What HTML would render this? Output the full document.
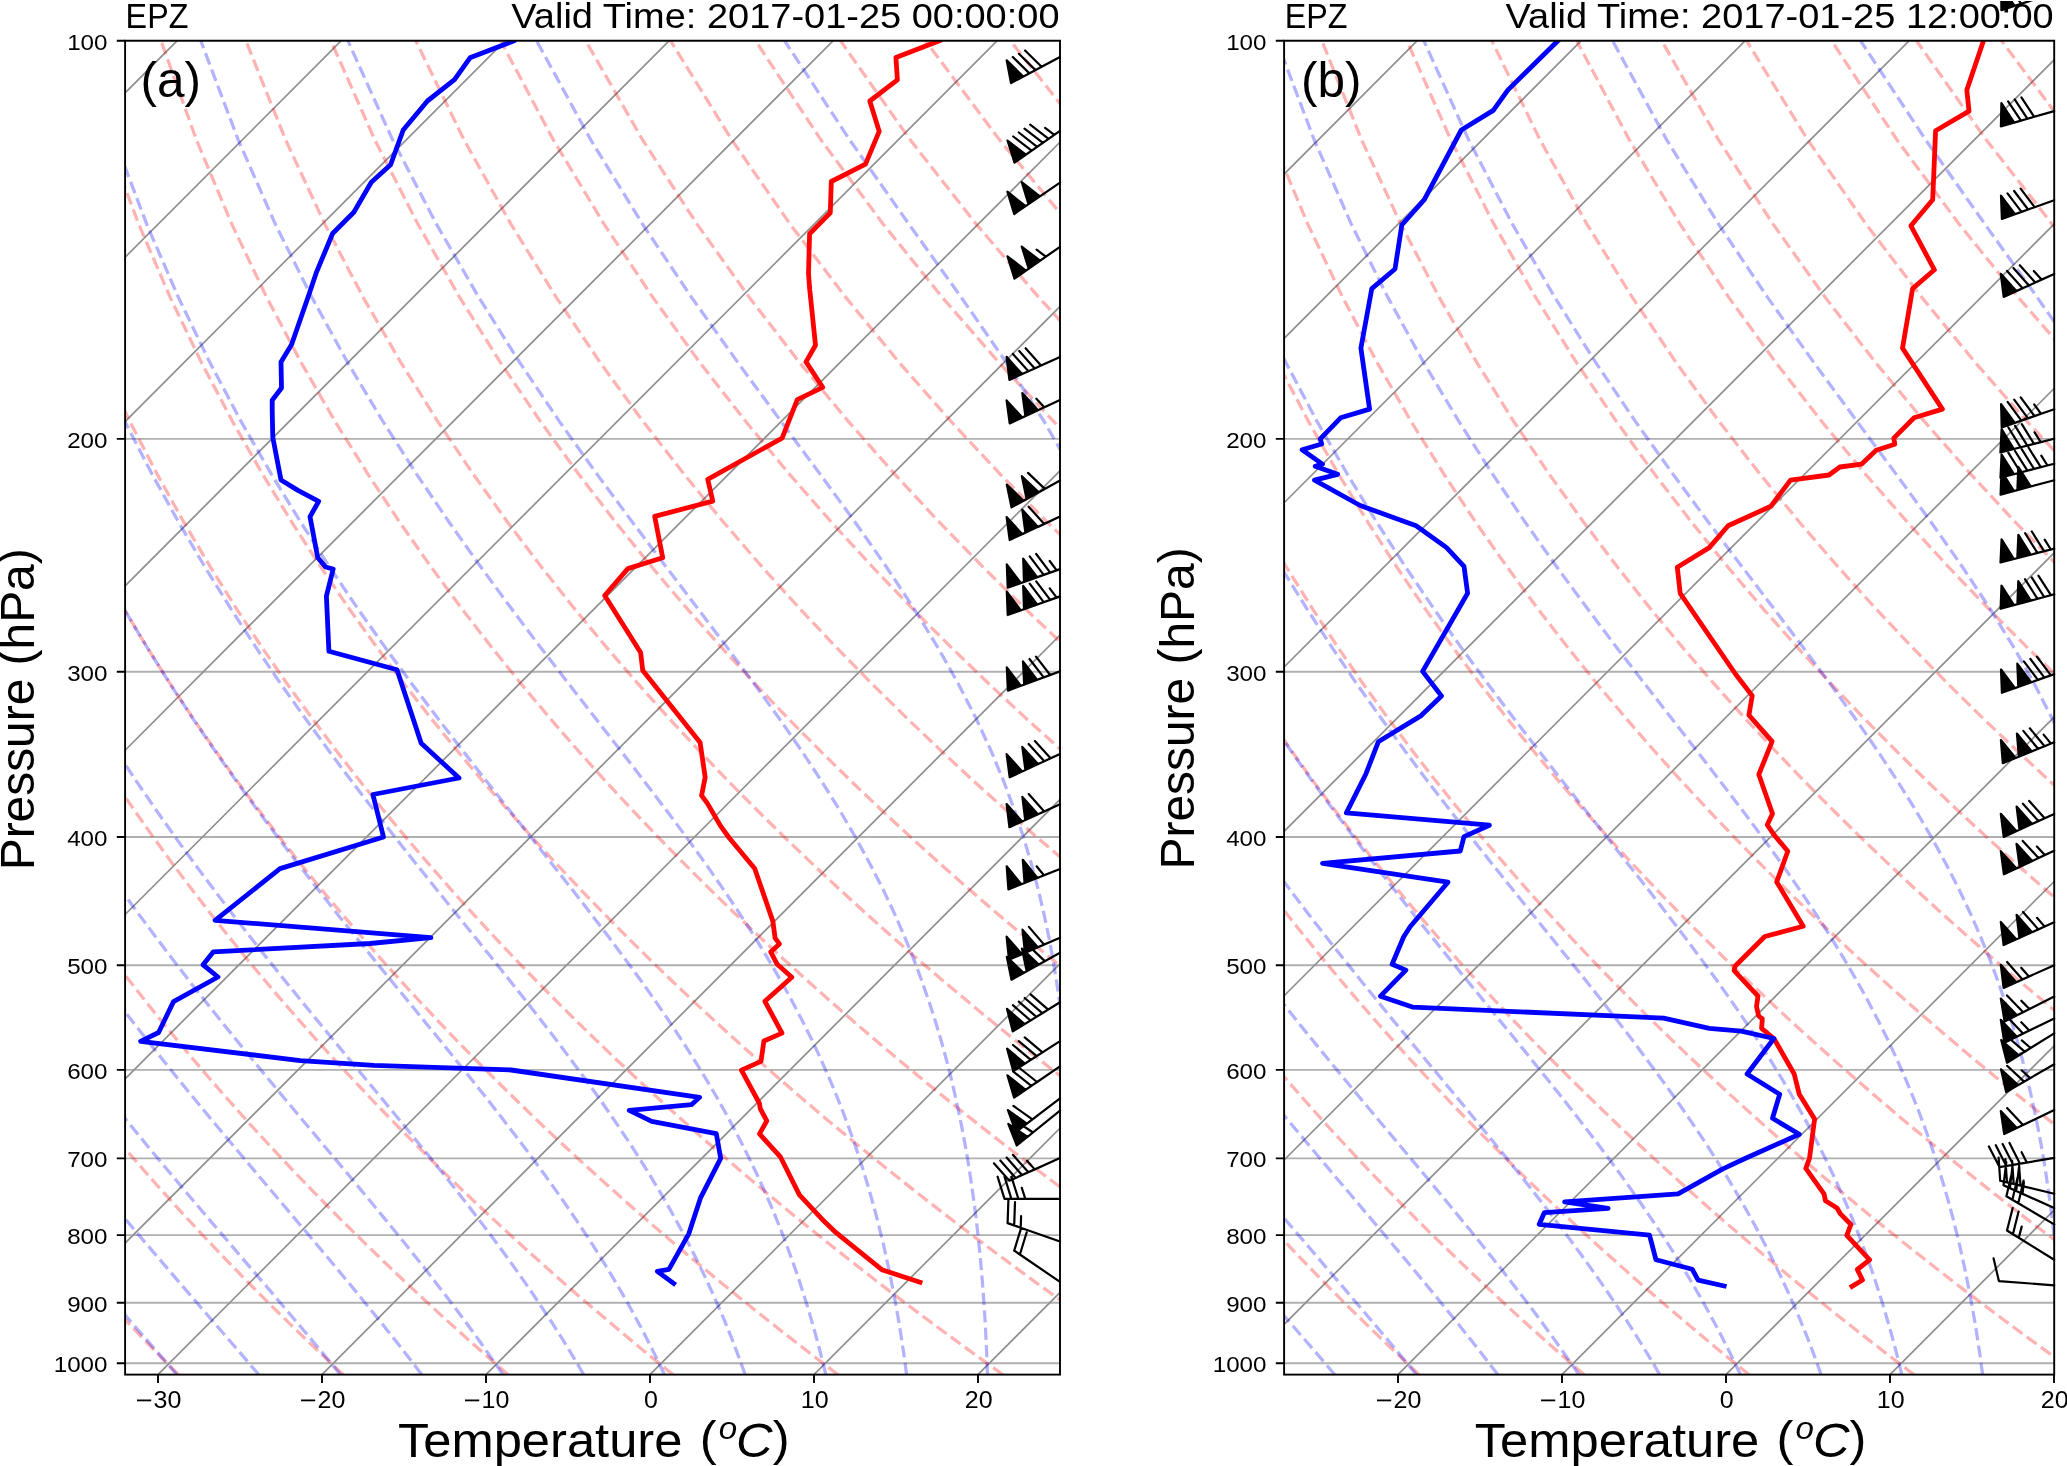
<!DOCTYPE html><html><head><meta charset="utf-8"><style>html,body{margin:0;padding:0;background:#fff;width:2067px;height:1466px;overflow:hidden}svg{display:block;will-change:transform}</style></head><body>
<svg width="2067" height="1466" viewBox="0 0 2067 1466">
<rect width="2067" height="1466" fill="#fff"/>
<clipPath id="clipa"><rect x="125.1" y="40.7" width="934.9" height="1333.9"/></clipPath>
<g clip-path="url(#clipa)">
<path d="M125.1 40.8 H1060 M125.1 438.9 H1060 M125.1 671.8 H1060 M125.1 837 H1060 M125.1 965.2 H1060 M125.1 1069.9 H1060 M125.1 1158.4 H1060 M125.1 1235.1 H1060 M125.1 1302.8 H1060 M125.1 1363.3 H1060" stroke="#b0b0b0" stroke-width="1.9" fill="none"/>
<path d="M-2635 1379.6 L-1293.8 35.7 M-2471 1379.6 L-1129.8 35.7 M-2307 1379.6 L-965.8 35.7 M-2143 1379.6 L-801.8 35.7 M-1979 1379.6 L-637.8 35.7 M-1815 1379.6 L-473.8 35.7 M-1651 1379.6 L-309.8 35.7 M-1487 1379.6 L-145.8 35.7 M-1323 1379.6 L18.2 35.7 M-1159 1379.6 L182.2 35.7 M-995 1379.6 L346.2 35.7 M-831 1379.6 L510.2 35.7 M-667 1379.6 L674.2 35.7 M-503 1379.6 L838.2 35.7 M-339 1379.6 L1002.2 35.7 M-175 1379.6 L1166.2 35.7 M-11 1379.6 L1330.2 35.7 M153 1379.6 L1494.2 35.7 M317 1379.6 L1658.2 35.7 M481 1379.6 L1822.2 35.7 M645 1379.6 L1986.2 35.7 M809 1379.6 L2150.2 35.7 M973 1379.6 L2314.2 35.7 M1137 1379.6 L2478.2 35.7 M1301 1379.6 L2642.2 35.7 M1465 1379.6 L2806.2 35.7" stroke="#8f8f8f" stroke-width="1.7" fill="none"/>
<path d="M13.4 1374.7 L3.7 1364 L-6 1353.1 L-15.9 1342 L-25.8 1330.7 L-35.8 1319.2 L-45.9 1307.5 L-56 1295.4 L-66.2 1283.2 L-76.6 1270.6 L-87 1257.8 L-97.4 1244.7 L-108 1231.3 L-118.7 1217.6 L-129.4 1203.5 L-140.2 1189.1 L-151.2 1174.3 L-162.2 1159.1 L-173.3 1143.5 L-184.5 1127.5 L-195.8 1111 L-207.2 1094 L-218.7 1076.5 L-230.3 1058.5 L-242 1039.8 L-253.8 1020.6 L-265.7 1000.6 L-277.7 980 L-289.7 958.6 L-301.9 936.3 L-314.2 913.2 L-326.5 889.1 L-339 863.9 L-351.5 837.6 L-364 810 L-376.6 781.1 L-389.2 750.5 L-401.9 718.3 L-414.5 684.2 L-427 647.9 L-439.4 609.1 L-451.7 567.5 L-463.6 522.7 L-475.2 474.1 L-486.2 421.1 L-496.3 362.6 L-505.3 297.4 L-512.7 223.9 L-517.5 139.6 L-518.6 40.8 M178.4 1374.7 L167.8 1364 L157.1 1353.1 L146.4 1342 L135.6 1330.7 L124.7 1319.2 L113.6 1307.5 L102.5 1295.4 L91.3 1283.2 L80.1 1270.6 L68.7 1257.8 L57.2 1244.7 L45.6 1231.3 L33.9 1217.6 L22.1 1203.5 L10.2 1189.1 L-1.9 1174.3 L-14 1159.1 L-26.3 1143.5 L-38.7 1127.5 L-51.1 1111 L-63.8 1094 L-76.5 1076.5 L-89.4 1058.5 L-102.4 1039.8 L-115.5 1020.6 L-128.7 1000.6 L-142.1 980 L-155.7 958.6 L-169.3 936.3 L-183.1 913.2 L-197 889.1 L-211 863.9 L-225.2 837.6 L-239.5 810 L-253.9 781.1 L-268.3 750.5 L-282.9 718.3 L-297.5 684.2 L-312.1 647.9 L-326.7 609.1 L-341.3 567.5 L-355.7 522.7 L-369.8 474.1 L-383.5 421.1 L-396.6 362.6 L-408.8 297.4 L-419.6 223.9 L-428.3 139.6 L-433.6 40.8 M343.3 1374.7 L331.8 1364 L320.3 1353.1 L308.7 1342 L296.9 1330.7 L285.1 1319.2 L273.1 1307.5 L261.1 1295.4 L248.9 1283.2 L236.7 1270.6 L224.3 1257.8 L211.8 1244.7 L199.2 1231.3 L186.4 1217.6 L173.5 1203.5 L160.5 1189.1 L147.4 1174.3 L134.1 1159.1 L120.7 1143.5 L107.2 1127.5 L93.5 1111 L79.7 1094 L65.7 1076.5 L51.6 1058.5 L37.3 1039.8 L22.8 1020.6 L8.2 1000.6 L-6.6 980 L-21.6 958.6 L-36.7 936.3 L-52 913.2 L-67.5 889.1 L-83.1 863.9 L-98.9 837.6 L-114.9 810 L-131.1 781.1 L-147.4 750.5 L-163.9 718.3 L-180.5 684.2 L-197.2 647.9 L-214 609.1 L-230.9 567.5 L-247.7 522.7 L-264.4 474.1 L-280.9 421.1 L-297 362.6 L-312.3 297.4 L-326.6 223.9 L-339.1 139.6 L-348.7 40.8 M508.2 1374.7 L495.9 1364 L483.5 1353.1 L470.9 1342 L458.3 1330.7 L445.5 1319.2 L432.7 1307.5 L419.7 1295.4 L406.5 1283.2 L393.3 1270.6 L379.9 1257.8 L366.4 1244.7 L352.7 1231.3 L338.9 1217.6 L325 1203.5 L310.9 1189.1 L296.7 1174.3 L282.3 1159.1 L267.8 1143.5 L253 1127.5 L238.2 1111 L223.1 1094 L207.9 1076.5 L192.5 1058.5 L176.9 1039.8 L161.1 1020.6 L145.1 1000.6 L128.9 980 L112.5 958.6 L95.9 936.3 L79.1 913.2 L62.1 889.1 L44.8 863.9 L27.3 837.6 L9.6 810 L-8.3 781.1 L-26.5 750.5 L-44.9 718.3 L-63.5 684.2 L-82.3 647.9 L-101.3 609.1 L-120.5 567.5 L-139.7 522.7 L-159 474.1 L-178.3 421.1 L-197.3 362.6 L-215.8 297.4 L-233.5 223.9 L-249.9 139.6 L-263.7 40.8 M673.1 1374.7 L660 1364 L646.6 1353.1 L633.2 1342 L619.7 1330.7 L606 1319.2 L592.2 1307.5 L578.2 1295.4 L564.1 1283.2 L549.9 1270.6 L535.5 1257.8 L521 1244.7 L506.3 1231.3 L491.5 1217.6 L476.5 1203.5 L461.3 1189.1 L446 1174.3 L430.5 1159.1 L414.8 1143.5 L398.9 1127.5 L382.8 1111 L366.6 1094 L350.1 1076.5 L333.4 1058.5 L316.5 1039.8 L299.4 1020.6 L282 1000.6 L264.5 980 L246.6 958.6 L228.5 936.3 L210.2 913.2 L191.6 889.1 L172.7 863.9 L153.6 837.6 L134.2 810 L114.4 781.1 L94.4 750.5 L74.1 718.3 L53.5 684.2 L32.6 647.9 L11.4 609.1 L-10.1 567.5 L-31.8 522.7 L-53.7 474.1 L-75.6 421.1 L-97.6 362.6 L-119.3 297.4 L-140.5 223.9 L-160.6 139.6 L-178.8 40.8 M838.1 1374.7 L824 1364 L809.8 1353.1 L795.5 1342 L781 1330.7 L766.4 1319.2 L751.7 1307.5 L736.8 1295.4 L721.7 1283.2 L706.5 1270.6 L691.1 1257.8 L675.6 1244.7 L659.9 1231.3 L644 1217.6 L627.9 1203.5 L611.7 1189.1 L595.3 1174.3 L578.6 1159.1 L561.8 1143.5 L544.7 1127.5 L527.5 1111 L510 1094 L492.3 1076.5 L474.3 1058.5 L456.1 1039.8 L437.7 1020.6 L419 1000.6 L400 980 L380.7 958.6 L361.2 936.3 L341.3 913.2 L321.2 889.1 L300.7 863.9 L279.9 837.6 L258.7 810 L237.2 781.1 L215.3 750.5 L193.1 718.3 L170.4 684.2 L147.4 647.9 L124.1 609.1 L100.3 567.5 L76.2 522.7 L51.7 474.1 L27 421.1 L2.1 362.6 L-22.8 297.4 L-47.5 223.9 L-71.4 139.6 L-93.9 40.8 M1003 1374.7 L988.1 1364 L973 1353.1 L957.8 1342 L942.4 1330.7 L926.9 1319.2 L911.2 1307.5 L895.3 1295.4 L879.3 1283.2 L863.1 1270.6 L846.8 1257.8 L830.2 1244.7 L813.5 1231.3 L796.5 1217.6 L779.4 1203.5 L762.1 1189.1 L744.5 1174.3 L726.8 1159.1 L708.8 1143.5 L690.6 1127.5 L672.1 1111 L653.4 1094 L634.5 1076.5 L615.2 1058.5 L595.8 1039.8 L576 1020.6 L555.9 1000.6 L535.5 980 L514.8 958.6 L493.8 936.3 L472.4 913.2 L450.7 889.1 L428.6 863.9 L406.1 837.6 L383.2 810 L359.9 781.1 L336.2 750.5 L312.1 718.3 L287.4 684.2 L262.3 647.9 L236.7 609.1 L210.7 567.5 L184.1 522.7 L157.1 474.1 L129.6 421.1 L101.8 362.6 L73.7 297.4 L45.6 223.9 L17.8 139.6 L-8.9 40.8 M1167.9 1374.7 L1152.1 1364 L1136.2 1353.1 L1120 1342 L1103.8 1330.7 L1087.3 1319.2 L1070.7 1307.5 L1053.9 1295.4 L1036.9 1283.2 L1019.7 1270.6 L1002.4 1257.8 L984.8 1244.7 L967 1231.3 L949.1 1217.6 L930.9 1203.5 L912.5 1189.1 L893.8 1174.3 L874.9 1159.1 L855.8 1143.5 L836.4 1127.5 L816.8 1111 L796.9 1094 L776.7 1076.5 L756.2 1058.5 L735.4 1039.8 L714.3 1020.6 L692.8 1000.6 L671 980 L648.9 958.6 L626.4 936.3 L603.5 913.2 L580.2 889.1 L556.5 863.9 L532.4 837.6 L507.8 810 L482.7 781.1 L457.1 750.5 L431 718.3 L404.4 684.2 L377.2 647.9 L349.4 609.1 L321.1 567.5 L292.1 522.7 L262.5 474.1 L232.3 421.1 L201.5 362.6 L170.2 297.4 L138.6 223.9 L107 139.6 L76 40.8 M1332.9 1374.7 L1316.2 1364 L1299.3 1353.1 L1282.3 1342 L1265.1 1330.7 L1247.8 1319.2 L1230.2 1307.5 L1212.4 1295.4 L1194.5 1283.2 L1176.3 1270.6 L1158 1257.8 L1139.4 1244.7 L1120.6 1231.3 L1101.6 1217.6 L1082.3 1203.5 L1062.9 1189.1 L1043.1 1174.3 L1023.1 1159.1 L1002.8 1143.5 L982.3 1127.5 L961.4 1111 L940.3 1094 L918.9 1076.5 L897.1 1058.5 L875 1039.8 L852.6 1020.6 L829.8 1000.6 L806.6 980 L783 958.6 L759 936.3 L734.6 913.2 L709.8 889.1 L684.4 863.9 L658.6 837.6 L632.3 810 L605.5 781.1 L578 750.5 L550 718.3 L521.4 684.2 L492.1 647.9 L462.1 609.1 L431.5 567.5 L400 522.7 L367.9 474.1 L334.9 421.1 L301.2 362.6 L266.7 297.4 L231.7 223.9 L196.3 139.6 L161 40.8 M1497.8 1374.7 L1480.2 1364 L1462.5 1353.1 L1444.6 1342 L1426.5 1330.7 L1408.2 1319.2 L1389.7 1307.5 L1371 1295.4 L1352.1 1283.2 L1333 1270.6 L1313.6 1257.8 L1294 1244.7 L1274.2 1231.3 L1254.1 1217.6 L1233.8 1203.5 L1213.2 1189.1 L1192.4 1174.3 L1171.3 1159.1 L1149.8 1143.5 L1128.1 1127.5 L1106.1 1111 L1083.7 1094 L1061.1 1076.5 L1038 1058.5 L1014.6 1039.8 L990.8 1020.6 L966.7 1000.6 L942.1 980 L917.1 958.6 L891.6 936.3 L865.7 913.2 L839.3 889.1 L812.4 863.9 L784.9 837.6 L756.9 810 L728.2 781.1 L699 750.5 L669 718.3 L638.4 684.2 L607 647.9 L574.8 609.1 L541.8 567.5 L508 522.7 L473.2 474.1 L437.5 421.1 L400.9 362.6 L363.2 297.4 L324.7 223.9 L285.5 139.6 L245.9 40.8 M1662.7 1374.7 L1644.3 1364 L1625.7 1353.1 L1606.9 1342 L1587.9 1330.7 L1568.6 1319.2 L1549.2 1307.5 L1529.6 1295.4 L1509.7 1283.2 L1489.6 1270.6 L1469.2 1257.8 L1448.6 1244.7 L1427.8 1231.3 L1406.7 1217.6 L1385.3 1203.5 L1363.6 1189.1 L1341.7 1174.3 L1319.4 1159.1 L1296.9 1143.5 L1274 1127.5 L1250.7 1111 L1227.2 1094 L1203.3 1076.5 L1178.9 1058.5 L1154.2 1039.8 L1129.1 1020.6 L1103.6 1000.6 L1077.6 980 L1051.2 958.6 L1024.3 936.3 L996.8 913.2 L968.8 889.1 L940.3 863.9 L911.2 837.6 L881.4 810 L851 781.1 L819.9 750.5 L788 718.3 L755.4 684.2 L721.9 647.9 L687.5 609.1 L652.2 567.5 L616 522.7 L578.6 474.1 L540.2 421.1 L500.5 362.6 L459.7 297.4 L417.8 223.9 L374.7 139.6 L330.9 40.8 M1827.7 1374.7 L1808.4 1364 L1788.9 1353.1 L1769.1 1342 L1749.2 1330.7 L1729.1 1319.2 L1708.7 1307.5 L1688.1 1295.4 L1667.3 1283.2 L1646.2 1270.6 L1624.8 1257.8 L1603.2 1244.7 L1581.4 1231.3 L1559.2 1217.6 L1536.8 1203.5 L1514 1189.1 L1491 1174.3 L1467.6 1159.1 L1443.9 1143.5 L1419.8 1127.5 L1395.4 1111 L1370.6 1094 L1345.4 1076.5 L1319.9 1058.5 L1293.9 1039.8 L1267.4 1020.6 L1240.5 1000.6 L1213.2 980 L1185.3 958.6 L1156.9 936.3 L1127.9 913.2 L1098.4 889.1 L1068.2 863.9 L1037.4 837.6 L1005.9 810 L973.7 781.1 L940.8 750.5 L907 718.3 L872.3 684.2 L836.8 647.9 L800.2 609.1 L762.6 567.5 L723.9 522.7 L684 474.1 L642.8 421.1 L600.2 362.6 L556.3 297.4 L510.8 223.9 L463.9 139.6 L415.8 40.8 M1992.6 1374.7 L1972.4 1364 L1952 1353.1 L1931.4 1342 L1910.6 1330.7 L1889.5 1319.2 L1868.2 1307.5 L1846.7 1295.4 L1824.9 1283.2 L1802.8 1270.6 L1780.5 1257.8 L1757.8 1244.7 L1734.9 1231.3 L1711.7 1217.6 L1688.2 1203.5 L1664.4 1189.1 L1640.2 1174.3 L1615.7 1159.1 L1590.9 1143.5 L1565.7 1127.5 L1540.1 1111 L1514.1 1094 L1487.6 1076.5 L1460.8 1058.5 L1433.5 1039.8 L1405.7 1020.6 L1377.5 1000.6 L1348.7 980 L1319.4 958.6 L1289.5 936.3 L1259 913.2 L1227.9 889.1 L1196.2 863.9 L1163.7 837.6 L1130.5 810 L1096.5 781.1 L1061.7 750.5 L1026 718.3 L989.3 684.2 L951.7 647.9 L912.9 609.1 L873 567.5 L831.9 522.7 L789.4 474.1 L745.4 421.1 L699.9 362.6 L652.8 297.4 L603.9 223.9 L553.2 139.6 L500.7 40.8 M2157.5 1374.7 L2136.5 1364 L2115.2 1353.1 L2093.7 1342 L2072 1330.7 L2050 1319.2 L2027.7 1307.5 L2005.2 1295.4 L1982.5 1283.2 L1959.4 1270.6 L1936.1 1257.8 L1912.4 1244.7 L1888.5 1231.3 L1864.3 1217.6 L1839.7 1203.5 L1814.8 1189.1 L1789.5 1174.3 L1763.9 1159.1 L1737.9 1143.5 L1711.5 1127.5 L1684.7 1111 L1657.5 1094 L1629.8 1076.5 L1601.7 1058.5 L1573.1 1039.8 L1544 1020.6 L1514.4 1000.6 L1484.2 980 L1453.5 958.6 L1422.1 936.3 L1390.1 913.2 L1357.5 889.1 L1324.1 863.9 L1290 837.6 L1255 810 L1219.3 781.1 L1182.6 750.5 L1145 718.3 L1106.3 684.2 L1066.6 647.9 L1025.6 609.1 L983.4 567.5 L939.8 522.7 L894.7 474.1 L848.1 421.1 L799.6 362.6 L749.3 297.4 L696.9 223.9 L642.4 139.6 L585.7 40.8 M2322.4 1374.7 L2300.5 1364 L2278.4 1353.1 L2256 1342 L2233.3 1330.7 L2210.4 1319.2 L2187.2 1307.5 L2163.8 1295.4 L2140 1283.2 L2116 1270.6 L2091.7 1257.8 L2067.1 1244.7 L2042.1 1231.3 L2016.8 1217.6 L1991.2 1203.5 L1965.2 1189.1 L1938.8 1174.3 L1912.1 1159.1 L1884.9 1143.5 L1857.4 1127.5 L1829.4 1111 L1800.9 1094 L1772 1076.5 L1742.6 1058.5 L1712.7 1039.8 L1682.3 1020.6 L1651.3 1000.6 L1619.8 980 L1587.6 958.6 L1554.7 936.3 L1521.2 913.2 L1487 889.1 L1452 863.9 L1416.2 837.6 L1379.6 810 L1342 781.1 L1303.5 750.5 L1263.9 718.3 L1223.3 684.2 L1181.4 647.9 L1138.3 609.1 L1093.8 567.5 L1047.8 522.7 L1000.1 474.1 L950.7 421.1 L899.3 362.6 L845.8 297.4 L789.9 223.9 L731.6 139.6 L670.6 40.8 M2487.4 1374.7 L2464.6 1364 L2441.5 1353.1 L2418.2 1342 L2394.7 1330.7 L2370.9 1319.2 L2346.7 1307.5 L2322.3 1295.4 L2297.6 1283.2 L2272.6 1270.6 L2247.3 1257.8 L2221.7 1244.7 L2195.7 1231.3 L2169.3 1217.6 L2142.6 1203.5 L2115.6 1189.1 L2088.1 1174.3 L2060.2 1159.1 L2031.9 1143.5 L2003.2 1127.5 L1974 1111 L1944.4 1094 L1914.2 1076.5 L1883.6 1058.5 L1852.4 1039.8 L1820.6 1020.6 L1788.3 1000.6 L1755.3 980 L1721.7 958.6 L1687.4 936.3 L1652.3 913.2 L1616.5 889.1 L1579.9 863.9 L1542.5 837.6 L1504.1 810 L1464.8 781.1 L1424.4 750.5 L1382.9 718.3 L1340.3 684.2 L1296.3 647.9 L1251 609.1 L1204.2 567.5 L1155.7 522.7 L1105.5 474.1 L1053.3 421.1 L999 362.6 L942.3 297.4 L883 223.9 L820.8 139.6 L755.6 40.8 M2652.3 1374.7 L2628.6 1364 L2604.7 1353.1 L2580.5 1342 L2556.1 1330.7 L2531.3 1319.2 L2506.2 1307.5 L2480.9 1295.4 L2455.2 1283.2 L2429.2 1270.6 L2402.9 1257.8 L2376.3 1244.7 L2349.2 1231.3 L2321.9 1217.6 L2294.1 1203.5 L2265.9 1189.1 L2237.4 1174.3 L2208.4 1159.1 L2178.9 1143.5 L2149.1 1127.5 L2118.7 1111 L2087.8 1094 L2056.4 1076.5 L2024.5 1058.5 L1992 1039.8 L1958.9 1020.6 L1925.2 1000.6 L1890.8 980 L1855.8 958.6 L1820 936.3 L1783.4 913.2 L1746.1 889.1 L1707.9 863.9 L1668.7 837.6 L1628.7 810 L1587.5 781.1 L1545.3 750.5 L1501.9 718.3 L1457.3 684.2 L1411.2 647.9 L1363.7 609.1 L1314.6 567.5 L1263.7 522.7 L1210.9 474.1 L1155.9 421.1 L1098.7 362.6 L1038.8 297.4 L976 223.9 L910 139.6 L840.5 40.8 M2817.2 1374.7 L2792.7 1364 L2767.9 1353.1 L2742.8 1342 L2717.4 1330.7 L2691.7 1319.2 L2665.8 1307.5 L2639.4 1295.4 L2612.8 1283.2 L2585.9 1270.6 L2558.5 1257.8 L2530.9 1244.7 L2502.8 1231.3 L2474.4 1217.6 L2445.6 1203.5 L2416.3 1189.1 L2386.7 1174.3 L2356.5 1159.1 L2326 1143.5 L2294.9 1127.5 L2263.3 1111 L2231.3 1094 L2198.6 1076.5 L2165.4 1058.5 L2131.6 1039.8 L2097.2 1020.6 L2062.1 1000.6 L2026.3 980 L1989.8 958.6 L1952.6 936.3 L1914.5 913.2 L1875.6 889.1 L1835.8 863.9 L1795 837.6 L1753.2 810 L1710.3 781.1 L1666.2 750.5 L1620.9 718.3 L1574.2 684.2 L1526.1 647.9 L1476.4 609.1 L1425 567.5 L1371.6 522.7 L1316.3 474.1 L1258.6 421.1 L1198.4 362.6 L1135.3 297.4 L1069.1 223.9 L999.3 139.6 L925.5 40.8 M2982.2 1374.7 L2956.8 1364 L2931.1 1353.1 L2905.1 1342 L2878.8 1330.7 L2852.2 1319.2 L2825.3 1307.5 L2798 1295.4 L2770.4 1283.2 L2742.5 1270.6 L2714.2 1257.8 L2685.5 1244.7 L2656.4 1231.3 L2626.9 1217.6 L2597 1203.5 L2566.7 1189.1 L2535.9 1174.3 L2504.7 1159.1 L2473 1143.5 L2440.7 1127.5 L2408 1111 L2374.7 1094 L2340.8 1076.5 L2306.3 1058.5 L2271.2 1039.8 L2235.5 1020.6 L2199 1000.6 L2161.9 980 L2123.9 958.6 L2085.2 936.3 L2045.6 913.2 L2005.1 889.1 L1963.7 863.9 L1921.3 837.6 L1877.7 810 L1833.1 781.1 L1787.1 750.5 L1739.9 718.3 L1691.2 684.2 L1641 647.9 L1589.1 609.1 L1535.4 567.5 L1479.6 522.7 L1421.6 474.1 L1361.2 421.1 L1298 362.6 L1231.8 297.4 L1162.1 223.9 L1088.5 139.6 L1010.4 40.8 M3147.1 1374.7 L3120.8 1364 L3094.2 1353.1 L3067.3 1342 L3040.1 1330.7 L3012.6 1319.2 L2984.8 1307.5 L2956.6 1295.4 L2928 1283.2 L2899.1 1270.6 L2869.8 1257.8 L2840.1 1244.7 L2810 1231.3 L2779.5 1217.6 L2748.5 1203.5 L2717.1 1189.1 L2685.2 1174.3 L2652.9 1159.1 L2620 1143.5 L2586.6 1127.5 L2552.6 1111 L2518.1 1094 L2483 1076.5 L2447.3 1058.5 L2410.9 1039.8 L2373.8 1020.6 L2336 1000.6 L2297.4 980 L2258 958.6 L2217.8 936.3 L2176.7 913.2 L2134.7 889.1 L2091.6 863.9 L2047.5 837.6 L2002.3 810 L1955.8 781.1 L1908 750.5 L1858.9 718.3 L1808.2 684.2 L1755.9 647.9 L1701.8 609.1 L1645.7 567.5 L1587.6 522.7 L1527 474.1 L1463.8 421.1 L1397.7 362.6 L1328.3 297.4 L1255.2 223.9 L1177.7 139.6 L1095.4 40.8 M3312 1374.7 L3284.9 1364 L3257.4 1353.1 L3229.6 1342 L3201.5 1330.7 L3173.1 1319.2 L3144.3 1307.5 L3115.1 1295.4 L3085.6 1283.2 L3055.7 1270.6 L3025.4 1257.8 L2994.7 1244.7 L2963.6 1231.3 L2932 1217.6 L2900 1203.5 L2867.5 1189.1 L2834.5 1174.3 L2801 1159.1 L2767 1143.5 L2732.4 1127.5 L2697.3 1111 L2661.6 1094 L2625.2 1076.5 L2588.2 1058.5 L2550.5 1039.8 L2512.1 1020.6 L2472.9 1000.6 L2432.9 980 L2392.1 958.6 L2350.4 936.3 L2307.8 913.2 L2264.2 889.1 L2219.6 863.9 L2173.8 837.6 L2126.8 810 L2078.6 781.1 L2029 750.5 L1977.9 718.3 L1925.2 684.2 L1870.8 647.9 L1814.5 609.1 L1756.1 567.5 L1695.5 522.7 L1632.4 474.1 L1566.5 421.1 L1497.4 362.6 L1424.8 297.4 L1348.2 223.9 L1266.9 139.6 L1180.3 40.8 M3477 1374.7 L3448.9 1364 L3420.6 1353.1 L3391.9 1342 L3362.9 1330.7 L3333.5 1319.2 L3303.8 1307.5 L3273.7 1295.4 L3243.2 1283.2 L3212.3 1270.6 L3181 1257.8 L3149.3 1244.7 L3117.1 1231.3 L3084.5 1217.6 L3051.4 1203.5 L3017.9 1189.1 L2983.8 1174.3 L2949.2 1159.1 L2914 1143.5 L2878.3 1127.5 L2842 1111 L2805 1094 L2767.4 1076.5 L2729.1 1058.5 L2690.1 1039.8 L2650.4 1020.6 L2609.8 1000.6 L2568.5 980 L2526.2 958.6 L2483.1 936.3 L2438.9 913.2 L2393.8 889.1 L2347.5 863.9 L2300 837.6 L2251.4 810 L2201.3 781.1 L2149.9 750.5 L2096.9 718.3 L2042.2 684.2 L1985.7 647.9 L1927.2 609.1 L1866.5 567.5 L1803.5 522.7 L1737.8 474.1 L1669.1 421.1 L1597.1 362.6 L1521.3 297.4 L1441.3 223.9 L1356.2 139.6 L1265.2 40.8 M3641.9 1374.7 L3613 1364 L3583.8 1353.1 L3554.2 1342 L3524.2 1330.7 L3494 1319.2 L3463.3 1307.5 L3432.2 1295.4 L3400.8 1283.2 L3368.9 1270.6 L3336.6 1257.8 L3303.9 1244.7 L3270.7 1231.3 L3237.1 1217.6 L3202.9 1203.5 L3168.3 1189.1 L3133.1 1174.3 L3097.3 1159.1 L3061 1143.5 L3024.1 1127.5 L2986.6 1111 L2948.4 1094 L2909.6 1076.5 L2870 1058.5 L2829.7 1039.8 L2788.7 1020.6 L2746.8 1000.6 L2704 980 L2660.3 958.6 L2615.7 936.3 L2570 913.2 L2523.3 889.1 L2475.4 863.9 L2426.3 837.6 L2375.9 810 L2324.1 781.1 L2270.8 750.5 L2215.8 718.3 L2159.2 684.2 L2100.6 647.9 L2039.9 609.1 L1976.9 567.5 L1911.4 522.7 L1843.1 474.1 L1771.7 421.1 L1696.8 362.6 L1617.9 297.4 L1534.3 223.9 L1445.4 139.6 L1350.2 40.8 M3806.8 1374.7 L3777 1364 L3746.9 1353.1 L3716.4 1342 L3685.6 1330.7 L3654.4 1319.2 L3622.8 1307.5 L3590.8 1295.4 L3558.4 1283.2 L3525.5 1270.6 L3492.2 1257.8 L3458.5 1244.7 L3424.3 1231.3 L3389.6 1217.6 L3354.4 1203.5 L3318.6 1189.1 L3282.4 1174.3 L3245.5 1159.1 L3208 1143.5 L3170 1127.5 L3131.3 1111 L3091.9 1094 L3051.8 1076.5 L3011 1058.5 L2969.4 1039.8 L2926.9 1020.6 L2883.7 1000.6 L2839.5 980 L2794.4 958.6 L2748.3 936.3 L2701.1 913.2 L2652.8 889.1 L2603.3 863.9 L2552.6 837.6 L2500.4 810 L2446.9 781.1 L2391.7 750.5 L2334.8 718.3 L2276.1 684.2 L2215.4 647.9 L2152.6 609.1 L2087.3 567.5 L2019.4 522.7 L1948.5 474.1 L1874.4 421.1 L1796.5 362.6 L1714.4 297.4 L1627.3 223.9 L1534.6 139.6 L1435.1 40.8 M3971.8 1374.7 L3941.1 1364 L3910.1 1353.1 L3878.7 1342 L3847 1330.7 L3814.8 1319.2 L3782.3 1307.5 L3749.3 1295.4 L3716 1283.2 L3682.1 1270.6 L3647.9 1257.8 L3613.1 1244.7 L3577.9 1231.3 L3542.1 1217.6 L3505.9 1203.5 L3469 1189.1 L3431.6 1174.3 L3393.7 1159.1 L3355.1 1143.5 L3315.8 1127.5 L3275.9 1111 L3235.3 1094 L3194 1076.5 L3151.9 1058.5 L3109 1039.8 L3065.2 1020.6 L3020.6 1000.6 L2975.1 980 L2928.5 958.6 L2880.9 936.3 L2832.2 913.2 L2782.4 889.1 L2731.3 863.9 L2678.8 837.6 L2625 810 L2569.6 781.1 L2512.6 750.5 L2453.8 718.3 L2393.1 684.2 L2330.3 647.9 L2265.3 609.1 L2197.7 567.5 L2127.3 522.7 L2053.9 474.1 L1977 421.1 L1896.2 362.6 L1810.9 297.4 L1720.4 223.9 L1623.8 139.6 L1520.1 40.8 M4136.7 1374.7 L4105.2 1364 L4073.3 1353.1 L4041 1342 L4008.3 1330.7 L3975.3 1319.2 L3941.8 1307.5 L3907.9 1295.4 L3873.6 1283.2 L3838.8 1270.6 L3803.5 1257.8 L3767.7 1244.7 L3731.5 1231.3 L3694.7 1217.6 L3657.3 1203.5 L3619.4 1189.1 L3580.9 1174.3 L3541.8 1159.1 L3502.1 1143.5 L3461.7 1127.5 L3420.6 1111 L3378.8 1094 L3336.2 1076.5 L3292.8 1058.5 L3248.6 1039.8 L3203.5 1020.6 L3157.5 1000.6 L3110.6 980 L3062.6 958.6 L3013.5 936.3 L2963.3 913.2 L2911.9 889.1 L2859.2 863.9 L2805.1 837.6 L2749.5 810 L2692.4 781.1 L2633.5 750.5 L2572.8 718.3 L2510.1 684.2 L2445.2 647.9 L2378 609.1 L2308.1 567.5 L2235.3 522.7 L2159.3 474.1 L2079.6 421.1 L1995.9 362.6 L1907.4 297.4 L1813.4 223.9 L1713.1 139.6 L1605 40.8 M4301.6 1374.7 L4269.2 1364 L4236.4 1353.1 L4203.3 1342 L4169.7 1330.7 L4135.7 1319.2 L4101.3 1307.5 L4066.5 1295.4 L4031.2 1283.2 L3995.4 1270.6 L3959.1 1257.8 L3922.3 1244.7 L3885 1231.3 L3847.2 1217.6 L3808.8 1203.5 L3769.8 1189.1 L3730.2 1174.3 L3690 1159.1 L3649.1 1143.5 L3607.5 1127.5 L3565.2 1111 L3522.2 1094 L3478.4 1076.5 L3433.7 1058.5 L3388.2 1039.8 L3341.8 1020.6 L3294.5 1000.6 L3246.1 980 L3196.7 958.6 L3146.2 936.3 L3094.4 913.2 L3041.4 889.1 L2987.1 863.9 L2931.4 837.6 L2874.1 810 L2815.1 781.1 L2754.4 750.5 L2691.8 718.3 L2627.1 684.2 L2560.1 647.9 L2490.7 609.1 L2418.5 567.5 L2343.3 522.7 L2264.7 474.1 L2182.3 421.1 L2095.5 362.6 L2003.9 297.4 L1906.5 223.9 L1802.3 139.6 L1690 40.8 M4466.5 1374.7 L4433.3 1364 L4399.6 1353.1 L4365.6 1342 L4331.1 1330.7 L4296.2 1319.2 L4260.8 1307.5 L4225 1295.4 L4188.7 1283.2 L4152 1270.6 L4114.7 1257.8 L4076.9 1244.7 L4038.6 1231.3 L3999.7 1217.6 L3960.3 1203.5 L3920.2 1189.1 L3879.5 1174.3 L3838.1 1159.1 L3796.1 1143.5 L3753.4 1127.5 L3709.9 1111 L3665.6 1094 L3620.6 1076.5 L3574.7 1058.5 L3527.9 1039.8 L3480.1 1020.6 L3431.4 1000.6 L3381.6 980 L3330.8 958.6 L3278.8 936.3 L3225.5 913.2 L3171 889.1 L3115 863.9 L3057.6 837.6 L2998.6 810 L2937.9 781.1 L2875.3 750.5 L2810.8 718.3 L2744.1 684.2 L2675 647.9 L2603.4 609.1 L2528.9 567.5 L2451.2 522.7 L2370 474.1 L2284.9 421.1 L2195.2 362.6 L2100.4 297.4 L1999.5 223.9 L1891.5 139.6 L1774.9 40.8 M4631.5 1374.7 L4597.3 1364 L4562.8 1353.1 L4527.8 1342 L4492.4 1330.7 L4456.6 1319.2 L4420.3 1307.5 L4383.6 1295.4 L4346.3 1283.2 L4308.6 1270.6 L4270.3 1257.8 L4231.5 1244.7 L4192.2 1231.3 L4152.3 1217.6 L4111.7 1203.5 L4070.6 1189.1 L4028.8 1174.3 L3986.3 1159.1 L3943.1 1143.5 L3899.2 1127.5 L3854.5 1111 L3809.1 1094 L3762.8 1076.5 L3715.6 1058.5 L3667.5 1039.8 L3618.4 1020.6 L3568.3 1000.6 L3517.2 980 L3464.9 958.6 L3411.4 936.3 L3356.6 913.2 L3300.5 889.1 L3243 863.9 L3183.9 837.6 L3123.1 810 L3060.6 781.1 L2996.2 750.5 L2929.8 718.3 L2861.1 684.2 L2789.9 647.9 L2716 609.1 L2639.2 567.5 L2559.2 522.7 L2475.4 474.1 L2387.5 421.1 L2294.9 362.6 L2196.9 297.4 L2092.6 223.9 L1980.7 139.6 L1859.8 40.8 M4796.4 1374.7 L4761.4 1364 L4726 1353.1 L4690.1 1342 L4653.8 1330.7 L4617.1 1319.2 L4579.8 1307.5 L4542.1 1295.4 L4503.9 1283.2 L4465.2 1270.6 L4426 1257.8 L4386.1 1244.7 L4345.8 1231.3 L4304.8 1217.6 L4263.2 1203.5 L4221 1189.1 L4178.1 1174.3 L4134.5 1159.1 L4090.1 1143.5 L4045.1 1127.5 L3999.2 1111 L3952.5 1094 L3905 1076.5 L3856.5 1058.5 L3807.1 1039.8 L3756.7 1020.6 L3705.3 1000.6 L3652.7 980 L3599 958.6 L3544 936.3 L3487.7 913.2 L3430.1 889.1 L3370.9 863.9 L3310.1 837.6 L3247.7 810 L3183.4 781.1 L3117.1 750.5 L3048.8 718.3 L2978 684.2 L2904.8 647.9 L2828.7 609.1 L2749.6 567.5 L2667.1 522.7 L2580.8 474.1 L2490.2 421.1 L2394.6 362.6 L2293.4 297.4 L2185.6 223.9 L2070 139.6 L1944.8 40.8" stroke="#ff0000" stroke-opacity="0.3" stroke-width="3.25" fill="none" stroke-dasharray="12.15 5.3"/>
<path d="M-151.7 1374.7 L-160.3 1364 L-169.1 1353.1 L-177.8 1342 L-186.7 1330.7 L-195.7 1319.2 L-204.7 1307.5 L-213.8 1295.4 L-223 1283.2 L-232.2 1270.6 L-241.6 1257.8 L-251 1244.7 L-260.5 1231.3 L-270 1217.6 L-279.7 1203.5 L-289.4 1189.1 L-299.2 1174.3 L-309.1 1159.1 L-319 1143.5 L-329.1 1127.5 L-339.2 1111 L-349.3 1094 L-359.6 1076.5 L-369.9 1058.5 L-380.3 1039.8 L-390.8 1020.6 L-401.3 1000.6 L-411.9 980 L-422.6 958.6 L-433.3 936.3 L-444.1 913.2 L-454.9 889.1 L-465.7 863.9 L-476.5 837.6 L-487.4 810 L-498.2 781.1 L-509 750.5 L-519.7 718.3 L-530.3 684.2 L-540.8 647.9 L-551.1 609.1 L-561 567.5 L-570.6 522.7 L-579.6 474.1 L-587.8 421.1 L-595.1 362.6 L-600.9 297.4 L-604.8 223.9 L-605.9 139.6 L-602.7 40.8 M-69.4 1374.7 L-78.3 1364 L-87.4 1353.1 L-96.5 1342 L-105.7 1330.7 L-115 1319.2 L-124.4 1307.5 L-133.9 1295.4 L-143.5 1283.2 L-153.2 1270.6 L-163 1257.8 L-172.9 1244.7 L-182.8 1231.3 L-192.9 1217.6 L-203.1 1203.5 L-213.3 1189.1 L-223.6 1174.3 L-234 1159.1 L-244.6 1143.5 L-255.2 1127.5 L-265.9 1111 L-276.6 1094 L-287.5 1076.5 L-298.5 1058.5 L-309.5 1039.8 L-320.7 1020.6 L-331.9 1000.6 L-343.2 980 L-354.6 958.6 L-366 936.3 L-377.6 913.2 L-389.2 889.1 L-400.8 863.9 L-412.5 837.6 L-424.2 810 L-435.9 781.1 L-447.7 750.5 L-459.4 718.3 L-471 684.2 L-482.5 647.9 L-493.9 609.1 L-505 567.5 L-515.8 522.7 L-526.1 474.1 L-535.8 421.1 L-544.5 362.6 L-552 297.4 L-557.7 223.9 L-560.7 139.6 L-559.6 40.8 M12.9 1374.7 L3.7 1364 L-5.6 1353.1 L-15 1342 L-24.5 1330.7 L-34.2 1319.2 L-43.9 1307.5 L-53.8 1295.4 L-63.7 1283.2 L-73.8 1270.6 L-84 1257.8 L-94.3 1244.7 L-104.7 1231.3 L-115.2 1217.6 L-125.9 1203.5 L-136.6 1189.1 L-147.5 1174.3 L-158.4 1159.1 L-169.5 1143.5 L-180.6 1127.5 L-191.9 1111 L-203.3 1094 L-214.8 1076.5 L-226.4 1058.5 L-238.1 1039.8 L-249.9 1020.6 L-261.8 1000.6 L-273.8 980 L-285.9 958.6 L-298.2 936.3 L-310.5 913.2 L-322.8 889.1 L-335.3 863.9 L-347.8 837.6 L-360.4 810 L-373.1 781.1 L-385.8 750.5 L-398.5 718.3 L-411.1 684.2 L-423.7 647.9 L-436.2 609.1 L-448.5 567.5 L-460.5 522.7 L-472.2 474.1 L-483.2 421.1 L-493.5 362.6 L-502.6 297.4 L-510 223.9 L-515 139.6 L-516.1 40.8 M95 1374.7 L85.7 1364 L76.3 1353.1 L66.7 1342 L56.9 1330.7 L47.1 1319.2 L37 1307.5 L26.9 1295.4 L16.6 1283.2 L6.2 1270.6 L-4.3 1257.8 L-15 1244.7 L-25.8 1231.3 L-36.8 1217.6 L-47.9 1203.5 L-59.1 1189.1 L-70.4 1174.3 L-81.9 1159.1 L-93.5 1143.5 L-105.2 1127.5 L-117 1111 L-129 1094 L-141.1 1076.5 L-153.3 1058.5 L-165.7 1039.8 L-178.2 1020.6 L-190.8 1000.6 L-203.5 980 L-216.3 958.6 L-229.3 936.3 L-242.4 913.2 L-255.6 889.1 L-268.9 863.9 L-282.3 837.6 L-295.8 810 L-309.3 781.1 L-323 750.5 L-336.7 718.3 L-350.4 684.2 L-364.1 647.9 L-377.7 609.1 L-391.2 567.5 L-404.5 522.7 L-417.4 474.1 L-429.9 421.1 L-441.7 362.6 L-452.5 297.4 L-461.7 223.9 L-468.6 139.6 L-472 40.8 M177 1374.7 L167.7 1364 L158.2 1353.1 L148.6 1342 L138.8 1330.7 L128.8 1319.2 L118.6 1307.5 L108.3 1295.4 L97.8 1283.2 L87.1 1270.6 L76.3 1257.8 L65.3 1244.7 L54.2 1231.3 L42.8 1217.6 L31.4 1203.5 L19.7 1189.1 L8 1174.3 L-4 1159.1 L-16.1 1143.5 L-28.3 1127.5 L-40.7 1111 L-53.3 1094 L-66 1076.5 L-78.8 1058.5 L-91.8 1039.8 L-104.9 1020.6 L-118.2 1000.6 L-131.7 980 L-145.3 958.6 L-159 936.3 L-172.9 913.2 L-186.9 889.1 L-201 863.9 L-215.3 837.6 L-229.7 810 L-244.2 781.1 L-258.9 750.5 L-273.6 718.3 L-288.3 684.2 L-303.1 647.9 L-317.9 609.1 L-332.6 567.5 L-347.2 522.7 L-361.5 474.1 L-375.5 421.1 L-388.8 362.6 L-401.3 297.4 L-412.3 223.9 L-421.3 139.6 L-427 40.8 M258.8 1374.7 L249.7 1364 L240.4 1353.1 L230.8 1342 L221.1 1330.7 L211.1 1319.2 L201 1307.5 L190.6 1295.4 L180 1283.2 L169.2 1270.6 L158.3 1257.8 L147.1 1244.7 L135.7 1231.3 L124.1 1217.6 L112.3 1203.5 L100.4 1189.1 L88.2 1174.3 L75.9 1159.1 L63.3 1143.5 L50.6 1127.5 L37.7 1111 L24.6 1094 L11.3 1076.5 L-2.1 1058.5 L-15.8 1039.8 L-29.6 1020.6 L-43.5 1000.6 L-57.7 980 L-72 958.6 L-86.6 936.3 L-101.2 913.2 L-116.1 889.1 L-131.1 863.9 L-146.3 837.6 L-161.6 810 L-177.1 781.1 L-192.7 750.5 L-208.5 718.3 L-224.3 684.2 L-240.3 647.9 L-256.2 609.1 L-272.2 567.5 L-288.1 522.7 L-303.9 474.1 L-319.3 421.1 L-334.3 362.6 L-348.5 297.4 L-361.4 223.9 L-372.5 139.6 L-380.5 40.8 M340.4 1374.7 L331.7 1364 L322.7 1353.1 L313.5 1342 L304 1330.7 L294.3 1319.2 L284.3 1307.5 L274.1 1295.4 L263.7 1283.2 L252.9 1270.6 L242 1257.8 L230.8 1244.7 L219.3 1231.3 L207.6 1217.6 L195.7 1203.5 L183.5 1189.1 L171.1 1174.3 L158.4 1159.1 L145.5 1143.5 L132.4 1127.5 L119 1111 L105.5 1094 L91.7 1076.5 L77.6 1058.5 L63.4 1039.8 L48.9 1020.6 L34.3 1000.6 L19.4 980 L4.3 958.6 L-11 936.3 L-26.5 913.2 L-42.2 889.1 L-58.1 863.9 L-74.2 837.6 L-90.5 810 L-107 781.1 L-123.7 750.5 L-140.5 718.3 L-157.5 684.2 L-174.6 647.9 L-191.9 609.1 L-209.2 567.5 L-226.5 522.7 L-243.7 474.1 L-260.7 421.1 L-277.3 362.6 L-293.3 297.4 L-308.3 223.9 L-321.5 139.6 L-332 40.8 M421.8 1374.7 L413.6 1364 L405.2 1353.1 L396.6 1342 L387.6 1330.7 L378.4 1319.2 L368.9 1307.5 L359.1 1295.4 L349 1283.2 L338.6 1270.6 L327.9 1257.8 L316.9 1244.7 L305.6 1231.3 L294 1217.6 L282.1 1203.5 L269.9 1189.1 L257.4 1174.3 L244.6 1159.1 L231.5 1143.5 L218.1 1127.5 L204.4 1111 L190.4 1094 L176.2 1076.5 L161.7 1058.5 L146.9 1039.8 L131.8 1020.6 L116.5 1000.6 L100.9 980 L85.1 958.6 L69 936.3 L52.7 913.2 L36.1 889.1 L19.3 863.9 L2.2 837.6 L-15.1 810 L-32.7 781.1 L-50.4 750.5 L-68.4 718.3 L-86.6 684.2 L-105 647.9 L-123.6 609.1 L-142.3 567.5 L-161.1 522.7 L-179.8 474.1 L-198.5 421.1 L-216.9 362.6 L-234.9 297.4 L-251.9 223.9 L-267.5 139.6 L-280.5 40.8 M502.9 1374.7 L495.6 1364 L488 1353.1 L480.2 1342 L472 1330.7 L463.6 1319.2 L454.8 1307.5 L445.7 1295.4 L436.2 1283.2 L426.5 1270.6 L416.3 1257.8 L405.9 1244.7 L395 1231.3 L383.8 1217.6 L372.2 1203.5 L360.3 1189.1 L348 1174.3 L335.3 1159.1 L322.2 1143.5 L308.8 1127.5 L295 1111 L280.8 1094 L266.3 1076.5 L251.5 1058.5 L236.2 1039.8 L220.7 1020.6 L204.8 1000.6 L188.6 980 L172.1 958.6 L155.2 936.3 L138 913.2 L120.6 889.1 L102.8 863.9 L84.7 837.6 L66.3 810 L47.7 781.1 L28.7 750.5 L9.5 718.3 L-10 684.2 L-29.8 647.9 L-49.8 609.1 L-70 567.5 L-90.3 522.7 L-110.8 474.1 L-131.3 421.1 L-151.6 362.6 L-171.6 297.4 L-191 223.9 L-209 139.6 L-224.9 40.8 M583.7 1374.7 L577.5 1364 L571 1353.1 L564.2 1342 L557.1 1330.7 L549.7 1319.2 L541.9 1307.5 L533.8 1295.4 L525.4 1283.2 L516.6 1270.6 L507.4 1257.8 L497.8 1244.7 L487.8 1231.3 L477.4 1217.6 L466.6 1203.5 L455.3 1189.1 L443.6 1174.3 L431.4 1159.1 L418.7 1143.5 L405.7 1127.5 L392.1 1111 L378.1 1094 L363.6 1076.5 L348.6 1058.5 L333.2 1039.8 L317.4 1020.6 L301.1 1000.6 L284.4 980 L267.3 958.6 L249.7 936.3 L231.8 913.2 L213.5 889.1 L194.7 863.9 L175.6 837.6 L156.1 810 L136.3 781.1 L116.1 750.5 L95.5 718.3 L74.6 684.2 L53.4 647.9 L31.8 609.1 L9.9 567.5 L-12.2 522.7 L-34.5 474.1 L-57 421.1 L-79.5 362.6 L-101.8 297.4 L-123.6 223.9 L-144.4 139.6 L-163.4 40.8 M664.5 1374.7 L659.4 1364 L654.1 1353.1 L648.5 1342 L642.7 1330.7 L636.5 1319.2 L630.1 1307.5 L623.3 1295.4 L616.2 1283.2 L608.7 1270.6 L600.8 1257.8 L592.5 1244.7 L583.8 1231.3 L574.6 1217.6 L565 1203.5 L554.9 1189.1 L544.3 1174.3 L533.2 1159.1 L521.5 1143.5 L509.3 1127.5 L496.5 1111 L483.2 1094 L469.2 1076.5 L454.7 1058.5 L439.6 1039.8 L423.9 1020.6 L407.6 1000.6 L390.7 980 L373.3 958.6 L355.3 936.3 L336.7 913.2 L317.7 889.1 L298.1 863.9 L278 837.6 L257.4 810 L236.3 781.1 L214.7 750.5 L192.7 718.3 L170.3 684.2 L147.4 647.9 L124.1 609.1 L100.4 567.5 L76.3 522.7 L51.8 474.1 L27.1 421.1 L2.2 362.6 L-22.7 297.4 L-47.3 223.9 L-71.3 139.6 L-93.8 40.8 M745.2 1374.7 L741.3 1364 L737.3 1353.1 L733.1 1342 L728.6 1330.7 L723.9 1319.2 L718.9 1307.5 L713.6 1295.4 L708 1283.2 L702 1270.6 L695.8 1257.8 L689.1 1244.7 L682.1 1231.3 L674.6 1217.6 L666.7 1203.5 L658.3 1189.1 L649.4 1174.3 L639.9 1159.1 L629.9 1143.5 L619.2 1127.5 L608 1111 L596.1 1094 L583.4 1076.5 L570.1 1058.5 L556.1 1039.8 L541.3 1020.6 L525.7 1000.6 L509.4 980 L492.2 958.6 L474.4 936.3 L455.7 913.2 L436.3 889.1 L416.2 863.9 L395.3 837.6 L373.8 810 L351.5 781.1 L328.7 750.5 L305.2 718.3 L281 684.2 L256.3 647.9 L231.1 609.1 L205.2 567.5 L178.9 522.7 L152 474.1 L124.7 421.1 L97 362.6 L69.1 297.4 L41.2 223.9 L13.6 139.6 L-13 40.8 M825.8 1374.7 L823.3 1364 L820.5 1353.1 L817.6 1342 L814.5 1330.7 L811.2 1319.2 L807.8 1307.5 L804 1295.4 L800.1 1283.2 L795.8 1270.6 L791.3 1257.8 L786.5 1244.7 L781.4 1231.3 L775.9 1217.6 L770 1203.5 L763.7 1189.1 L756.9 1174.3 L749.6 1159.1 L741.8 1143.5 L733.5 1127.5 L724.5 1111 L714.9 1094 L704.5 1076.5 L693.4 1058.5 L681.5 1039.8 L668.8 1020.6 L655.1 1000.6 L640.5 980 L624.8 958.6 L608.2 936.3 L590.5 913.2 L571.8 889.1 L552 863.9 L531.2 837.6 L509.3 810 L486.4 781.1 L462.6 750.5 L437.8 718.3 L412.1 684.2 L385.5 647.9 L358.1 609.1 L329.9 567.5 L301 522.7 L271.3 474.1 L240.9 421.1 L209.9 362.6 L178.4 297.4 L146.6 223.9 L114.6 139.6 L83.3 40.8 M906.6 1374.7 L905.2 1364 L903.7 1353.1 L902 1342 L900.3 1330.7 L898.4 1319.2 L896.3 1307.5 L894.1 1295.4 L891.7 1283.2 L889.2 1270.6 L886.4 1257.8 L883.5 1244.7 L880.2 1231.3 L876.8 1217.6 L873 1203.5 L868.9 1189.1 L864.5 1174.3 L859.7 1159.1 L854.5 1143.5 L848.8 1127.5 L842.6 1111 L835.9 1094 L828.5 1076.5 L820.5 1058.5 L811.8 1039.8 L802.2 1020.6 L791.8 1000.6 L780.4 980 L767.9 958.6 L754.3 936.3 L739.4 913.2 L723.2 889.1 L705.7 863.9 L686.7 837.6 L666.2 810 L644.1 781.1 L620.6 750.5 L595.5 718.3 L569 684.2 L541 647.9 L511.8 609.1 L481.2 567.5 L449.5 522.7 L416.6 474.1 L382.7 421.1 L347.7 362.6 L311.9 297.4 L275.2 223.9 L238.1 139.6 L200.8 40.8 M987.5 1374.7 L987.1 1364 L986.7 1353.1 L986.2 1342 L985.6 1330.7 L985 1319.2 L984.2 1307.5 L983.4 1295.4 L982.5 1283.2 L981.4 1270.6 L980.3 1257.8 L979 1244.7 L977.6 1231.3 L976 1217.6 L974.2 1203.5 L972.2 1189.1 L970 1174.3 L967.6 1159.1 L964.9 1143.5 L961.9 1127.5 L958.5 1111 L954.8 1094 L950.7 1076.5 L946.1 1058.5 L940.9 1039.8 L935.2 1020.6 L928.7 1000.6 L921.5 980 L913.5 958.6 L904.4 936.3 L894.3 913.2 L882.9 889.1 L870 863.9 L855.7 837.6 L839.5 810 L821.5 781.1 L801.4 750.5 L779.1 718.3 L754.5 684.2 L727.5 647.9 L698.2 609.1 L666.6 567.5 L632.8 522.7 L596.9 474.1 L559.2 421.1 L519.8 362.6 L478.8 297.4 L436.3 223.9 L392.5 139.6 L347.9 40.8 M1068.5 1374.7 L1069.1 1364 L1069.6 1353.1 L1070 1342 L1070.5 1330.7 L1070.9 1319.2 L1071.3 1307.5 L1071.6 1295.4 L1072 1283.2 L1072.2 1270.6 L1072.4 1257.8 L1072.6 1244.7 L1072.7 1231.3 L1072.7 1217.6 L1072.6 1203.5 L1072.5 1189.1 L1072.2 1174.3 L1071.8 1159.1 L1071.3 1143.5 L1070.6 1127.5 L1069.8 1111 L1068.7 1094 L1067.5 1076.5 L1065.9 1058.5 L1064.1 1039.8 L1061.9 1020.6 L1059.4 1000.6 L1056.3 980 L1052.8 958.6 L1048.7 936.3 L1043.8 913.2 L1038.1 889.1 L1031.4 863.9 L1023.6 837.6 L1014.4 810 L1003.6 781.1 L990.9 750.5 L976 718.3 L958.5 684.2 L938.1 647.9 L914.3 609.1 L886.8 567.5 L855.5 522.7 L820.1 474.1 L780.8 421.1 L737.9 362.6 L691.6 297.4 L642.4 223.9 L590.6 139.6 L536.6 40.8 M1149.7 1374.7 L1151 1364 L1152.3 1353.1 L1153.6 1342 L1154.9 1330.7 L1156.2 1319.2 L1157.5 1307.5 L1158.8 1295.4 L1160.1 1283.2 L1161.4 1270.6 L1162.8 1257.8 L1164.1 1244.7 L1165.4 1231.3 L1166.8 1217.6 L1168.1 1203.5 L1169.4 1189.1 L1170.7 1174.3 L1171.9 1159.1 L1173.1 1143.5 L1174.3 1127.5 L1175.5 1111 L1176.6 1094 L1177.6 1076.5 L1178.5 1058.5 L1179.3 1039.8 L1180.1 1020.6 L1180.6 1000.6 L1181 980 L1181.2 958.6 L1181.1 936.3 L1180.7 913.2 L1180 889.1 L1178.8 863.9 L1177 837.6 L1174.6 810 L1171.3 781.1 L1167 750.5 L1161.4 718.3 L1154.2 684.2 L1144.9 647.9 L1133.1 609.1 L1118 567.5 L1098.7 522.7 L1074.4 474.1 L1043.9 421.1 L1006.4 362.6 L961.3 297.4 L908.7 223.9 L849.5 139.6 L784.6 40.8 M1231.1 1374.7 L1233 1364 L1234.9 1353.1 L1236.8 1342 L1238.8 1330.7 L1240.8 1319.2 L1242.8 1307.5 L1244.9 1295.4 L1247 1283.2 L1249.2 1270.6 L1251.4 1257.8 L1253.7 1244.7 L1255.9 1231.3 L1258.3 1217.6 L1260.7 1203.5 L1263.1 1189.1 L1265.6 1174.3 L1268.1 1159.1 L1270.6 1143.5 L1273.2 1127.5 L1275.9 1111 L1278.6 1094 L1281.3 1076.5 L1284.1 1058.5 L1286.9 1039.8 L1289.7 1020.6 L1292.6 1000.6 L1295.5 980 L1298.4 958.6 L1301.2 936.3 L1304.1 913.2 L1307 889.1 L1309.7 863.9 L1312.4 837.6 L1315 810 L1317.3 781.1 L1319.3 750.5 L1321 718.3 L1322.2 684.2 L1322.6 647.9 L1322.1 609.1 L1320.2 567.5 L1316.5 522.7 L1310.1 474.1 L1299.9 421.1 L1284.2 362.6 L1260.7 297.4 L1226.2 223.9 L1177.2 139.6 L1111.5 40.8 M1312.6 1374.7 L1314.9 1364 L1317.3 1353.1 L1319.8 1342 L1322.3 1330.7 L1324.8 1319.2 L1327.4 1307.5 L1330.1 1295.4 L1332.8 1283.2 L1335.6 1270.6 L1338.5 1257.8 L1341.4 1244.7 L1344.5 1231.3 L1347.6 1217.6 L1350.7 1203.5 L1354 1189.1 L1357.4 1174.3 L1360.8 1159.1 L1364.4 1143.5 L1368 1127.5 L1371.7 1111 L1375.6 1094 L1379.5 1076.5 L1383.6 1058.5 L1387.8 1039.8 L1392.2 1020.6 L1396.6 1000.6 L1401.3 980 L1406 958.6 L1411 936.3 L1416.1 913.2 L1421.3 889.1 L1426.8 863.9 L1432.4 837.6 L1438.2 810 L1444.2 781.1 L1450.3 750.5 L1456.7 718.3 L1463.2 684.2 L1469.8 647.9 L1476.5 609.1 L1483.3 567.5 L1489.9 522.7 L1496.2 474.1 L1501.8 421.1 L1506.2 362.6 L1508.3 297.4 L1506.5 223.9 L1497.3 139.6 L1474.3 40.8 M1394.2 1374.7 L1396.9 1364 L1399.7 1353.1 L1402.5 1342 L1405.4 1330.7 L1408.4 1319.2 L1411.4 1307.5 L1414.5 1295.4 L1417.7 1283.2 L1421 1270.6 L1424.3 1257.8 L1427.8 1244.7 L1431.3 1231.3 L1435 1217.6 L1438.8 1203.5 L1442.6 1189.1 L1446.6 1174.3 L1450.7 1159.1 L1455 1143.5 L1459.3 1127.5 L1463.9 1111 L1468.5 1094 L1473.4 1076.5 L1478.4 1058.5 L1483.5 1039.8 L1488.9 1020.6 L1494.5 1000.6 L1500.3 980 L1506.3 958.6 L1512.6 936.3 L1519.2 913.2 L1526 889.1 L1533.2 863.9 L1540.7 837.6 L1548.6 810 L1556.9 781.1 L1565.6 750.5 L1574.8 718.3 L1584.5 684.2 L1594.8 647.9 L1605.7 609.1 L1617.3 567.5 L1629.7 522.7 L1643 474.1 L1657.1 421.1 L1672.2 362.6 L1688.3 297.4 L1705.3 223.9 L1722.8 139.6 L1739.5 40.8" stroke="#0000ff" stroke-opacity="0.3" stroke-width="3.25" fill="none" stroke-dasharray="12.15 5.3"/>
<path d="M939.5 40.7 L895.9 57.4 L897.4 79.9 L869.8 101 L879.2 131.4 L865.5 164.1 L831.3 181.5 L830.3 212.7 L809.6 233.8 L808.5 273.4 L809.7 289.3 L815.5 345.2 L806 361.9 L822.7 387.3 L797.3 399.7 L782.1 438.1 L707.7 479.3 L712.8 501.1 L654.7 516.4 L662.7 557.7 L627.9 568.6 L604.7 595.5 L640.6 652.5 L642.8 670.6 L700.1 742.5 L705.2 777.3 L701.6 795.5 L707.4 803.4 L720.5 825.9 L729.3 838 L754.7 868.5 L772.9 921.4 L775.1 938.1 L779.4 943.9 L770.7 951.9 L777.2 964.3 L791.8 977.3 L764.9 1001.3 L782 1033.1 L763.9 1041 L761 1061.4 L741.4 1070.1 L759.5 1103.5 L760.2 1108.5 L766.8 1120.9 L759.5 1133.9 L780.6 1157.2 L799.4 1194.9 L822.3 1219.4 L835.8 1232.4 L848.4 1242.6 L881.8 1269.7 L920 1282.2" stroke="#ff0000" stroke-width="4.8" fill="none" stroke-linejoin="round" stroke-linecap="square"/>
<path d="M513.5 41 L470 57.8 L454.5 79.7 L427.4 101 L403.2 130 L390.6 164.8 L371.3 182.2 L353.8 212.2 L332.6 233.5 L316.1 273.2 L309.3 293.5 L291.6 344.5 L281 361.9 L281.5 388 L272.2 400.2 L272.2 410.3 L272.8 437.4 L281 480 L298.4 490.6 L318.7 501.3 L310 516.7 L317.7 557.4 L325.5 567 L333.2 569 L326.4 596.1 L328.9 651.3 L397 669.7 L421.2 743.2 L459 778 L372.9 794.5 L383.5 837 L280 868.6 L215.1 920.3 L430.9 937.7 L370 943.5 L213.2 951.9 L203.1 964.8 L218 977 L173.5 1001.6 L158.6 1032.5 L140.6 1041.3 L300.3 1060.6 L373.8 1065.4 L511.1 1070 L699.6 1097.3 L691.7 1104.6 L629.2 1110.4 L651.7 1121.3 L716.3 1133.6 L720.7 1158.3 L700.4 1198.2 L688.8 1233.8 L668.9 1269.3 L657.3 1271.3 L673.7 1283.4" stroke="#0000ff" stroke-width="4.8" fill="none" stroke-linejoin="round" stroke-linecap="square"/>
</g>
<clipPath id="bclipa"><rect x="0" y="1.1" width="2067" height="1466"/></clipPath><path clip-path="url(#bclipa)" d="M1060 57 L1011 83.1 L1006.7 60.3 L1023.3 76.6 L1029.4 73.4 L1012.8 57 L1029.4 73.4 L1035.5 70.1 L1018.9 53.8 L1035.5 70.1 L1041.6 66.8 L1025.1 50.5 L1041.6 66.8Z M1060 130.9 L1014.5 162.7 L1007.5 140.5 L1025.9 154.7 L1031.6 150.7 L1013.2 136.5 L1031.6 150.7 L1037.2 146.8 L1018.8 132.5 L1037.2 146.8 L1042.9 142.8 L1024.5 128.6 L1042.9 142.8 L1048.6 138.8 L1030.2 124.6 L1048.6 138.8 L1054.3 134.9 L1045.1 127.8 L1054.3 134.9Z M1060 182.7 L1014.2 214 L1007.4 191.7 L1025.6 206.2 L1028.5 204.2 L1021.7 182 L1039.9 196.4Z M1060 246.8 L1014.5 278.6 L1007.5 256.4 L1025.9 270.6 L1028.7 268.6 L1021.7 246.5 L1040.1 260.7 L1045.8 256.7 L1036.6 249.6 L1045.8 256.7Z M1060 357 L1009.4 379.9 L1006.6 356.8 L1022.1 374.1 L1028.4 371.3 L1012.9 353.9 L1028.4 371.3 L1034.7 368.4 L1019.2 351.1 L1034.7 368.4 L1041 365.6 L1025.6 348.2 L1041 365.6Z M1060 400 L1009.7 423.4 L1006.6 400.4 L1022.3 417.6 L1025.4 416.1 L1022.3 393.1 L1038 410.3 L1044.3 407.3 L1036.4 398.7 L1044.3 407.3Z M1060 480.5 L1011.5 507.4 L1006.8 484.6 L1023.6 500.7 L1026.6 499 L1021.9 476.2 L1038.8 492.3 L1044.8 488.9 L1028 472.9 L1044.8 488.9Z M1060 516.6 L1009.7 540 L1006.6 517 L1022.3 534.2 L1025.4 532.7 L1022.3 509.7 L1038 526.9 L1044.3 523.9 L1028.6 506.7 L1044.3 523.9Z M1060 569.1 L1007.7 587.7 L1006.8 564.4 L1020.8 583 L1024 581.9 L1023.2 558.6 L1037.1 577.2 L1043.7 574.9 L1029.7 556.3 L1043.7 574.9 L1050.2 572.6 L1036.2 554 L1050.2 572.6 L1056.7 570.3 L1049.7 561 L1056.7 570.3Z M1060 596.4 L1007.7 615 L1006.8 591.7 L1020.8 610.3 L1024 609.2 L1023.2 585.9 L1037.1 604.5 L1043.7 602.2 L1029.7 583.6 L1043.7 602.2 L1050.2 599.9 L1036.2 581.3 L1050.2 599.9 L1056.7 597.6 L1049.7 588.3 L1056.7 597.6Z M1060 671.4 L1007.9 690.6 L1006.8 667.4 L1020.9 685.8 L1024.2 684.6 L1023 661.4 L1037.2 679.8 L1043.7 677.4 L1029.5 659 L1043.7 677.4 L1050.2 675 L1036 656.6 L1050.2 675Z M1060 753.9 L1009.7 777.3 L1006.6 754.2 L1022.2 771.4 L1025.4 770 L1022.3 746.9 L1038 764.1 L1044.3 761.2 L1028.6 744 L1044.3 761.2 L1050.6 758.3 L1034.9 741.1 L1050.6 758.3Z M1060 804.3 L1009.4 827.2 L1006.6 804.1 L1022.1 821.4 L1025.2 820 L1022.4 796.9 L1037.9 814.3 L1044.2 811.4 L1028.7 794.1 L1044.2 811.4Z M1060 868.9 L1008.4 889.4 L1006.7 866.3 L1021.3 884.3 L1024.6 883 L1022.8 859.8 L1037.4 877.9 L1043.9 875.3 L1036.6 866.3 L1043.9 875.3Z M1060 937.7 L1009 959.7 L1006.6 936.6 L1021.8 954.2 L1025 952.8 L1022.5 929.7 L1037.7 947.3 L1044.1 944.6 L1028.9 926.9 L1044.1 944.6Z M1060 952.7 L1011.5 979.7 L1006.8 956.9 L1023.6 972.9 L1026.7 971.3 L1021.9 948.5 L1038.8 964.5 L1044.8 961.1 L1028 945.1 L1044.8 961.1Z M1060 1002.3 L1012.8 1031.4 L1007 1008.9 L1024.6 1024.1 L1030.5 1020.5 L1012.9 1005.2 L1030.5 1020.5 L1036.4 1016.9 L1018.8 1001.6 L1036.4 1016.9 L1042.3 1013.2 L1024.7 998 L1042.3 1013.2 L1048.2 1009.6 L1030.6 994.3 L1048.2 1009.6Z M1060 1041.1 L1013.3 1071.1 L1007.1 1048.7 L1025 1063.6 L1030.8 1059.9 L1013 1045 L1030.8 1059.9 L1036.7 1056.1 L1018.8 1041.2 L1036.7 1056.1 L1042.5 1052.4 L1024.7 1037.4 L1042.5 1052.4Z M1060 1066.4 L1014.1 1097.6 L1007.4 1075.3 L1025.6 1089.8 L1031.3 1085.9 L1013.1 1071.4 L1031.3 1085.9 L1037.1 1082 L1018.8 1067.5 L1037.1 1082Z M1060 1098.4 L1015.8 1132 L1007.9 1110.1 L1026.9 1123.6 L1032.4 1119.4 L1013.4 1105.9 L1032.4 1119.4Z M1060 1110.7 L1016.8 1145.5 L1008.3 1123.9 L1027.6 1136.8 L1033 1132.5 L1023.3 1126 L1033 1132.5Z M1060 1158 L1009.4 1180.7 L993.9 1163.3 L1009.4 1180.7 L1015.7 1177.9 L1000.3 1160.5 L1015.7 1177.9 L1022 1175 L1006.6 1157.6 L1022 1175 L1028.4 1172.2 L1012.9 1154.8 L1028.4 1172.2 L1034.7 1169.4 L1027 1160.6 L1034.7 1169.4Z M1060 1198.9 L1004.5 1198.9 L997.6 1176.7 L1004.5 1198.9 L1011.4 1198.9 L1004.5 1176.7 L1011.4 1198.9 L1018.4 1198.9 L1011.4 1176.7 L1018.4 1198.9 L1025.3 1198.9 L1021.8 1187.8 L1025.3 1198.9Z M1060 1241.5 L1007.6 1223.1 L1008.4 1199.9 L1007.6 1223.1 L1014.2 1225.4 L1015 1202.2 L1014.2 1225.4 L1020.7 1227.7 L1021.1 1216.1 L1020.7 1227.7Z M1060 1281.9 L1014.2 1250.6 L1021 1228.4 L1014.2 1250.6 L1019.9 1254.5 L1026.7 1232.3 L1019.9 1254.5Z" fill="#000" stroke="#000" stroke-width="2.2" stroke-linejoin="round"/>
<rect x="125.1" y="40.7" width="934.9" height="1333.9" fill="none" stroke="#000" stroke-width="1.9"/>
<path d="M116.8 40.8 H125.1 M116.8 438.9 H125.1 M116.8 671.8 H125.1 M116.8 837 H125.1 M116.8 965.2 H125.1 M116.8 1069.9 H125.1 M116.8 1158.4 H125.1 M116.8 1235.1 H125.1 M116.8 1302.8 H125.1 M116.8 1363.3 H125.1 M158 1374.6 V1382.9 M322 1374.6 V1382.9 M486 1374.6 V1382.9 M650 1374.6 V1382.9 M814 1374.6 V1382.9 M978 1374.6 V1382.9" stroke="#000" stroke-width="1.9"/>
<g transform="translate(107.5 49.6) scale(1.0700 1)"><text x="0" y="0" text-anchor="end" style="font-family:'Liberation Sans',sans-serif;font-size:22.6px">100</text></g>
<g transform="translate(107.5 447.7) scale(1.0700 1)"><text x="0" y="0" text-anchor="end" style="font-family:'Liberation Sans',sans-serif;font-size:22.6px">200</text></g>
<g transform="translate(107.5 680.6) scale(1.0700 1)"><text x="0" y="0" text-anchor="end" style="font-family:'Liberation Sans',sans-serif;font-size:22.6px">300</text></g>
<g transform="translate(107.5 845.8) scale(1.0700 1)"><text x="0" y="0" text-anchor="end" style="font-family:'Liberation Sans',sans-serif;font-size:22.6px">400</text></g>
<g transform="translate(107.5 974) scale(1.0700 1)"><text x="0" y="0" text-anchor="end" style="font-family:'Liberation Sans',sans-serif;font-size:22.6px">500</text></g>
<g transform="translate(107.5 1078.7) scale(1.0700 1)"><text x="0" y="0" text-anchor="end" style="font-family:'Liberation Sans',sans-serif;font-size:22.6px">600</text></g>
<g transform="translate(107.5 1167.2) scale(1.0700 1)"><text x="0" y="0" text-anchor="end" style="font-family:'Liberation Sans',sans-serif;font-size:22.6px">700</text></g>
<g transform="translate(107.5 1243.9) scale(1.0700 1)"><text x="0" y="0" text-anchor="end" style="font-family:'Liberation Sans',sans-serif;font-size:22.6px">800</text></g>
<g transform="translate(107.5 1311.6) scale(1.0700 1)"><text x="0" y="0" text-anchor="end" style="font-family:'Liberation Sans',sans-serif;font-size:22.6px">900</text></g>
<g transform="translate(107.5 1372.1) scale(1.0700 1)"><text x="0" y="0" text-anchor="end" style="font-family:'Liberation Sans',sans-serif;font-size:22.6px">1000</text></g>
<rect x="137" y="1399.5" width="14.2" height="1.8"/><g transform="translate(153.5 1407.6) scale(1.0700 1)"><text x="0" y="0" text-anchor="start" style="font-family:'Liberation Sans',sans-serif;font-size:23.4px">30</text></g>
<rect x="301" y="1399.5" width="14.2" height="1.8"/><g transform="translate(317.5 1407.6) scale(1.0700 1)"><text x="0" y="0" text-anchor="start" style="font-family:'Liberation Sans',sans-serif;font-size:23.4px">20</text></g>
<rect x="465" y="1399.5" width="14.2" height="1.8"/><g transform="translate(481.5 1407.6) scale(1.0700 1)"><text x="0" y="0" text-anchor="start" style="font-family:'Liberation Sans',sans-serif;font-size:23.4px">10</text></g>
<g transform="translate(643.9 1407.6) scale(1.0700 1)"><text x="0" y="0" text-anchor="start" style="font-family:'Liberation Sans',sans-serif;font-size:23.4px">0</text></g>
<g transform="translate(800.8 1407.6) scale(1.0700 1)"><text x="0" y="0" text-anchor="start" style="font-family:'Liberation Sans',sans-serif;font-size:23.4px">10</text></g>
<g transform="translate(964.8 1407.6) scale(1.0700 1)"><text x="0" y="0" text-anchor="start" style="font-family:'Liberation Sans',sans-serif;font-size:23.4px">20</text></g>
<clipPath id="clipb"><rect x="1284.1" y="40.7" width="770.1" height="1333.9"/></clipPath>
<g clip-path="url(#clipb)">
<path d="M1284.1 40.8 H2054.2 M1284.1 438.9 H2054.2 M1284.1 671.8 H2054.2 M1284.1 837 H2054.2 M1284.1 965.2 H2054.2 M1284.1 1069.9 H2054.2 M1284.1 1158.4 H2054.2 M1284.1 1235.1 H2054.2 M1284.1 1302.8 H2054.2 M1284.1 1363.3 H2054.2" stroke="#b0b0b0" stroke-width="1.9" fill="none"/>
<path d="M-1559 1379.6 L-217.8 35.7 M-1395 1379.6 L-53.8 35.7 M-1231 1379.6 L110.2 35.7 M-1067 1379.6 L274.2 35.7 M-903 1379.6 L438.2 35.7 M-739 1379.6 L602.2 35.7 M-575 1379.6 L766.2 35.7 M-411 1379.6 L930.2 35.7 M-247 1379.6 L1094.2 35.7 M-83 1379.6 L1258.2 35.7 M81 1379.6 L1422.2 35.7 M245 1379.6 L1586.2 35.7 M409 1379.6 L1750.2 35.7 M573 1379.6 L1914.2 35.7 M737 1379.6 L2078.2 35.7 M901 1379.6 L2242.2 35.7 M1065 1379.6 L2406.2 35.7 M1229 1379.6 L2570.2 35.7 M1393 1379.6 L2734.2 35.7 M1557 1379.6 L2898.2 35.7 M1721 1379.6 L3062.2 35.7 M1885 1379.6 L3226.2 35.7 M2049 1379.6 L3390.2 35.7 M2213 1379.6 L3554.2 35.7 M2377 1379.6 L3718.2 35.7 M2541 1379.6 L3882.2 35.7" stroke="#8f8f8f" stroke-width="1.7" fill="none"/>
<path d="M1089.4 1374.7 L1079.7 1364 L1070 1353.1 L1060.1 1342 L1050.2 1330.7 L1040.2 1319.2 L1030.1 1307.5 L1020 1295.4 L1009.8 1283.2 L999.4 1270.6 L989 1257.8 L978.6 1244.7 L968 1231.3 L957.3 1217.6 L946.6 1203.5 L935.8 1189.1 L924.8 1174.3 L913.8 1159.1 L902.7 1143.5 L891.5 1127.5 L880.2 1111 L868.8 1094 L857.3 1076.5 L845.7 1058.5 L834 1039.8 L822.2 1020.6 L810.3 1000.6 L798.3 980 L786.3 958.6 L774.1 936.3 L761.8 913.2 L749.5 889.1 L737 863.9 L724.5 837.6 L712 810 L699.4 781.1 L686.8 750.5 L674.1 718.3 L661.5 684.2 L649 647.9 L636.6 609.1 L624.3 567.5 L612.4 522.7 L600.8 474.1 L589.8 421.1 L579.7 362.6 L570.7 297.4 L563.3 223.9 L558.5 139.6 L557.4 40.8 M1254.4 1374.7 L1243.8 1364 L1233.1 1353.1 L1222.4 1342 L1211.6 1330.7 L1200.7 1319.2 L1189.6 1307.5 L1178.5 1295.4 L1167.3 1283.2 L1156.1 1270.6 L1144.7 1257.8 L1133.2 1244.7 L1121.6 1231.3 L1109.9 1217.6 L1098.1 1203.5 L1086.2 1189.1 L1074.1 1174.3 L1062 1159.1 L1049.7 1143.5 L1037.3 1127.5 L1024.9 1111 L1012.2 1094 L999.5 1076.5 L986.6 1058.5 L973.6 1039.8 L960.5 1020.6 L947.3 1000.6 L933.9 980 L920.3 958.6 L906.7 936.3 L892.9 913.2 L879 889.1 L865 863.9 L850.8 837.6 L836.5 810 L822.1 781.1 L807.7 750.5 L793.1 718.3 L778.5 684.2 L763.9 647.9 L749.3 609.1 L734.7 567.5 L720.3 522.7 L706.2 474.1 L692.5 421.1 L679.4 362.6 L667.2 297.4 L656.4 223.9 L647.7 139.6 L642.4 40.8 M1419.3 1374.7 L1407.8 1364 L1396.3 1353.1 L1384.7 1342 L1372.9 1330.7 L1361.1 1319.2 L1349.1 1307.5 L1337.1 1295.4 L1324.9 1283.2 L1312.7 1270.6 L1300.3 1257.8 L1287.8 1244.7 L1275.2 1231.3 L1262.4 1217.6 L1249.5 1203.5 L1236.5 1189.1 L1223.4 1174.3 L1210.1 1159.1 L1196.7 1143.5 L1183.2 1127.5 L1169.5 1111 L1155.7 1094 L1141.7 1076.5 L1127.6 1058.5 L1113.3 1039.8 L1098.8 1020.6 L1084.2 1000.6 L1069.4 980 L1054.4 958.6 L1039.3 936.3 L1024 913.2 L1008.5 889.1 L992.9 863.9 L977.1 837.6 L961.1 810 L944.9 781.1 L928.6 750.5 L912.1 718.3 L895.5 684.2 L878.8 647.9 L862 609.1 L845.1 567.5 L828.3 522.7 L811.6 474.1 L795.1 421.1 L779 362.6 L763.7 297.4 L749.4 223.9 L736.9 139.6 L727.3 40.8 M1584.2 1374.7 L1571.9 1364 L1559.5 1353.1 L1546.9 1342 L1534.3 1330.7 L1521.5 1319.2 L1508.7 1307.5 L1495.7 1295.4 L1482.5 1283.2 L1469.3 1270.6 L1455.9 1257.8 L1442.4 1244.7 L1428.7 1231.3 L1414.9 1217.6 L1401 1203.5 L1386.9 1189.1 L1372.7 1174.3 L1358.3 1159.1 L1343.8 1143.5 L1329 1127.5 L1314.2 1111 L1299.1 1094 L1283.9 1076.5 L1268.5 1058.5 L1252.9 1039.8 L1237.1 1020.6 L1221.1 1000.6 L1204.9 980 L1188.5 958.6 L1171.9 936.3 L1155.1 913.2 L1138.1 889.1 L1120.8 863.9 L1103.3 837.6 L1085.6 810 L1067.7 781.1 L1049.5 750.5 L1031.1 718.3 L1012.5 684.2 L993.7 647.9 L974.7 609.1 L955.5 567.5 L936.3 522.7 L917 474.1 L897.7 421.1 L878.7 362.6 L860.2 297.4 L842.5 223.9 L826.1 139.6 L812.3 40.8 M1749.1 1374.7 L1736 1364 L1722.6 1353.1 L1709.2 1342 L1695.7 1330.7 L1682 1319.2 L1668.2 1307.5 L1654.2 1295.4 L1640.1 1283.2 L1625.9 1270.6 L1611.5 1257.8 L1597 1244.7 L1582.3 1231.3 L1567.5 1217.6 L1552.5 1203.5 L1537.3 1189.1 L1522 1174.3 L1506.5 1159.1 L1490.8 1143.5 L1474.9 1127.5 L1458.8 1111 L1442.6 1094 L1426.1 1076.5 L1409.4 1058.5 L1392.5 1039.8 L1375.4 1020.6 L1358 1000.6 L1340.5 980 L1322.6 958.6 L1304.5 936.3 L1286.2 913.2 L1267.6 889.1 L1248.7 863.9 L1229.6 837.6 L1210.2 810 L1190.4 781.1 L1170.4 750.5 L1150.1 718.3 L1129.5 684.2 L1108.6 647.9 L1087.4 609.1 L1065.9 567.5 L1044.2 522.7 L1022.3 474.1 L1000.4 421.1 L978.4 362.6 L956.7 297.4 L935.5 223.9 L915.4 139.6 L897.2 40.8 M1914.1 1374.7 L1900 1364 L1885.8 1353.1 L1871.5 1342 L1857 1330.7 L1842.4 1319.2 L1827.7 1307.5 L1812.8 1295.4 L1797.7 1283.2 L1782.5 1270.6 L1767.1 1257.8 L1751.6 1244.7 L1735.9 1231.3 L1720 1217.6 L1703.9 1203.5 L1687.7 1189.1 L1671.3 1174.3 L1654.6 1159.1 L1637.8 1143.5 L1620.7 1127.5 L1603.5 1111 L1586 1094 L1568.3 1076.5 L1550.3 1058.5 L1532.1 1039.8 L1513.7 1020.6 L1495 1000.6 L1476 980 L1456.7 958.6 L1437.2 936.3 L1417.3 913.2 L1397.2 889.1 L1376.7 863.9 L1355.9 837.6 L1334.7 810 L1313.2 781.1 L1291.3 750.5 L1269.1 718.3 L1246.4 684.2 L1223.4 647.9 L1200.1 609.1 L1176.3 567.5 L1152.2 522.7 L1127.7 474.1 L1103 421.1 L1078.1 362.6 L1053.2 297.4 L1028.5 223.9 L1004.6 139.6 L982.1 40.8 M2079 1374.7 L2064.1 1364 L2049 1353.1 L2033.8 1342 L2018.4 1330.7 L2002.9 1319.2 L1987.2 1307.5 L1971.3 1295.4 L1955.3 1283.2 L1939.1 1270.6 L1922.8 1257.8 L1906.2 1244.7 L1889.5 1231.3 L1872.5 1217.6 L1855.4 1203.5 L1838.1 1189.1 L1820.5 1174.3 L1802.8 1159.1 L1784.8 1143.5 L1766.6 1127.5 L1748.1 1111 L1729.4 1094 L1710.5 1076.5 L1691.2 1058.5 L1671.8 1039.8 L1652 1020.6 L1631.9 1000.6 L1611.5 980 L1590.8 958.6 L1569.8 936.3 L1548.4 913.2 L1526.7 889.1 L1504.6 863.9 L1482.1 837.6 L1459.2 810 L1435.9 781.1 L1412.2 750.5 L1388.1 718.3 L1363.4 684.2 L1338.3 647.9 L1312.7 609.1 L1286.7 567.5 L1260.1 522.7 L1233.1 474.1 L1205.6 421.1 L1177.8 362.6 L1149.7 297.4 L1121.6 223.9 L1093.8 139.6 L1067.1 40.8 M2243.9 1374.7 L2228.1 1364 L2212.2 1353.1 L2196 1342 L2179.8 1330.7 L2163.3 1319.2 L2146.7 1307.5 L2129.9 1295.4 L2112.9 1283.2 L2095.7 1270.6 L2078.4 1257.8 L2060.8 1244.7 L2043 1231.3 L2025.1 1217.6 L2006.9 1203.5 L1988.5 1189.1 L1969.8 1174.3 L1950.9 1159.1 L1931.8 1143.5 L1912.4 1127.5 L1892.8 1111 L1872.9 1094 L1852.7 1076.5 L1832.2 1058.5 L1811.4 1039.8 L1790.3 1020.6 L1768.8 1000.6 L1747 980 L1724.9 958.6 L1702.4 936.3 L1679.5 913.2 L1656.2 889.1 L1632.5 863.9 L1608.4 837.6 L1583.8 810 L1558.7 781.1 L1533.1 750.5 L1507 718.3 L1480.4 684.2 L1453.2 647.9 L1425.4 609.1 L1397.1 567.5 L1368.1 522.7 L1338.5 474.1 L1308.3 421.1 L1277.5 362.6 L1246.2 297.4 L1214.6 223.9 L1183 139.6 L1152 40.8 M2408.9 1374.7 L2392.2 1364 L2375.3 1353.1 L2358.3 1342 L2341.1 1330.7 L2323.8 1319.2 L2306.2 1307.5 L2288.4 1295.4 L2270.5 1283.2 L2252.3 1270.6 L2234 1257.8 L2215.4 1244.7 L2196.6 1231.3 L2177.6 1217.6 L2158.3 1203.5 L2138.9 1189.1 L2119.1 1174.3 L2099.1 1159.1 L2078.8 1143.5 L2058.3 1127.5 L2037.4 1111 L2016.3 1094 L1994.9 1076.5 L1973.1 1058.5 L1951 1039.8 L1928.6 1020.6 L1905.8 1000.6 L1882.6 980 L1859 958.6 L1835 936.3 L1810.6 913.2 L1785.8 889.1 L1760.4 863.9 L1734.6 837.6 L1708.3 810 L1681.5 781.1 L1654 750.5 L1626 718.3 L1597.4 684.2 L1568.1 647.9 L1538.1 609.1 L1507.5 567.5 L1476 522.7 L1443.9 474.1 L1410.9 421.1 L1377.2 362.6 L1342.7 297.4 L1307.7 223.9 L1272.3 139.6 L1237 40.8 M2573.8 1374.7 L2556.2 1364 L2538.5 1353.1 L2520.6 1342 L2502.5 1330.7 L2484.2 1319.2 L2465.7 1307.5 L2447 1295.4 L2428.1 1283.2 L2409 1270.6 L2389.6 1257.8 L2370 1244.7 L2350.2 1231.3 L2330.1 1217.6 L2309.8 1203.5 L2289.2 1189.1 L2268.4 1174.3 L2247.3 1159.1 L2225.8 1143.5 L2204.1 1127.5 L2182.1 1111 L2159.7 1094 L2137.1 1076.5 L2114 1058.5 L2090.6 1039.8 L2066.8 1020.6 L2042.7 1000.6 L2018.1 980 L1993.1 958.6 L1967.6 936.3 L1941.7 913.2 L1915.3 889.1 L1888.4 863.9 L1860.9 837.6 L1832.9 810 L1804.2 781.1 L1775 750.5 L1745 718.3 L1714.4 684.2 L1683 647.9 L1650.8 609.1 L1617.8 567.5 L1584 522.7 L1549.2 474.1 L1513.5 421.1 L1476.9 362.6 L1439.2 297.4 L1400.7 223.9 L1361.5 139.6 L1321.9 40.8 M2738.7 1374.7 L2720.3 1364 L2701.7 1353.1 L2682.9 1342 L2663.9 1330.7 L2644.6 1319.2 L2625.2 1307.5 L2605.6 1295.4 L2585.7 1283.2 L2565.6 1270.6 L2545.2 1257.8 L2524.6 1244.7 L2503.8 1231.3 L2482.7 1217.6 L2461.3 1203.5 L2439.6 1189.1 L2417.7 1174.3 L2395.4 1159.1 L2372.9 1143.5 L2350 1127.5 L2326.7 1111 L2303.2 1094 L2279.3 1076.5 L2254.9 1058.5 L2230.2 1039.8 L2205.1 1020.6 L2179.6 1000.6 L2153.6 980 L2127.2 958.6 L2100.3 936.3 L2072.8 913.2 L2044.8 889.1 L2016.3 863.9 L1987.2 837.6 L1957.4 810 L1927 781.1 L1895.9 750.5 L1864 718.3 L1831.4 684.2 L1797.9 647.9 L1763.5 609.1 L1728.2 567.5 L1692 522.7 L1654.6 474.1 L1616.2 421.1 L1576.5 362.6 L1535.7 297.4 L1493.8 223.9 L1450.7 139.6 L1406.9 40.8 M2903.7 1374.7 L2884.4 1364 L2864.9 1353.1 L2845.1 1342 L2825.2 1330.7 L2805.1 1319.2 L2784.7 1307.5 L2764.1 1295.4 L2743.3 1283.2 L2722.2 1270.6 L2700.8 1257.8 L2679.2 1244.7 L2657.4 1231.3 L2635.2 1217.6 L2612.8 1203.5 L2590 1189.1 L2567 1174.3 L2543.6 1159.1 L2519.9 1143.5 L2495.8 1127.5 L2471.4 1111 L2446.6 1094 L2421.4 1076.5 L2395.9 1058.5 L2369.9 1039.8 L2343.4 1020.6 L2316.5 1000.6 L2289.2 980 L2261.3 958.6 L2232.9 936.3 L2203.9 913.2 L2174.4 889.1 L2144.2 863.9 L2113.4 837.6 L2081.9 810 L2049.7 781.1 L2016.8 750.5 L1983 718.3 L1948.3 684.2 L1912.8 647.9 L1876.2 609.1 L1838.6 567.5 L1799.9 522.7 L1760 474.1 L1718.8 421.1 L1676.2 362.6 L1632.3 297.4 L1586.8 223.9 L1539.9 139.6 L1491.8 40.8 M3068.6 1374.7 L3048.4 1364 L3028 1353.1 L3007.4 1342 L2986.6 1330.7 L2965.5 1319.2 L2944.2 1307.5 L2922.7 1295.4 L2900.9 1283.2 L2878.8 1270.6 L2856.5 1257.8 L2833.8 1244.7 L2810.9 1231.3 L2787.7 1217.6 L2764.2 1203.5 L2740.4 1189.1 L2716.2 1174.3 L2691.7 1159.1 L2666.9 1143.5 L2641.7 1127.5 L2616.1 1111 L2590.1 1094 L2563.6 1076.5 L2536.8 1058.5 L2509.5 1039.8 L2481.7 1020.6 L2453.5 1000.6 L2424.7 980 L2395.4 958.6 L2365.5 936.3 L2335 913.2 L2303.9 889.1 L2272.2 863.9 L2239.7 837.6 L2206.5 810 L2172.5 781.1 L2137.7 750.5 L2102 718.3 L2065.3 684.2 L2027.7 647.9 L1988.9 609.1 L1949 567.5 L1907.9 522.7 L1865.4 474.1 L1821.4 421.1 L1775.9 362.6 L1728.8 297.4 L1679.9 223.9 L1629.2 139.6 L1576.7 40.8 M3233.5 1374.7 L3212.5 1364 L3191.2 1353.1 L3169.7 1342 L3148 1330.7 L3126 1319.2 L3103.7 1307.5 L3081.2 1295.4 L3058.5 1283.2 L3035.4 1270.6 L3012.1 1257.8 L2988.4 1244.7 L2964.5 1231.3 L2940.3 1217.6 L2915.7 1203.5 L2890.8 1189.1 L2865.5 1174.3 L2839.9 1159.1 L2813.9 1143.5 L2787.5 1127.5 L2760.7 1111 L2733.5 1094 L2705.8 1076.5 L2677.7 1058.5 L2649.1 1039.8 L2620 1020.6 L2590.4 1000.6 L2560.2 980 L2529.5 958.6 L2498.1 936.3 L2466.1 913.2 L2433.5 889.1 L2400.1 863.9 L2366 837.6 L2331 810 L2295.3 781.1 L2258.6 750.5 L2221 718.3 L2182.3 684.2 L2142.6 647.9 L2101.6 609.1 L2059.4 567.5 L2015.8 522.7 L1970.7 474.1 L1924.1 421.1 L1875.6 362.6 L1825.3 297.4 L1772.9 223.9 L1718.4 139.6 L1661.7 40.8 M3398.4 1374.7 L3376.5 1364 L3354.4 1353.1 L3332 1342 L3309.3 1330.7 L3286.4 1319.2 L3263.2 1307.5 L3239.8 1295.4 L3216 1283.2 L3192 1270.6 L3167.7 1257.8 L3143.1 1244.7 L3118.1 1231.3 L3092.8 1217.6 L3067.2 1203.5 L3041.2 1189.1 L3014.8 1174.3 L2988.1 1159.1 L2960.9 1143.5 L2933.4 1127.5 L2905.4 1111 L2876.9 1094 L2848 1076.5 L2818.6 1058.5 L2788.7 1039.8 L2758.3 1020.6 L2727.3 1000.6 L2695.8 980 L2663.6 958.6 L2630.7 936.3 L2597.2 913.2 L2563 889.1 L2528 863.9 L2492.2 837.6 L2455.6 810 L2418 781.1 L2379.5 750.5 L2339.9 718.3 L2299.3 684.2 L2257.4 647.9 L2214.3 609.1 L2169.8 567.5 L2123.8 522.7 L2076.1 474.1 L2026.7 421.1 L1975.3 362.6 L1921.8 297.4 L1865.9 223.9 L1807.6 139.6 L1746.6 40.8 M3563.4 1374.7 L3540.6 1364 L3517.5 1353.1 L3494.2 1342 L3470.7 1330.7 L3446.9 1319.2 L3422.7 1307.5 L3398.3 1295.4 L3373.6 1283.2 L3348.6 1270.6 L3323.3 1257.8 L3297.7 1244.7 L3271.7 1231.3 L3245.3 1217.6 L3218.6 1203.5 L3191.6 1189.1 L3164.1 1174.3 L3136.2 1159.1 L3107.9 1143.5 L3079.2 1127.5 L3050 1111 L3020.4 1094 L2990.2 1076.5 L2959.6 1058.5 L2928.4 1039.8 L2896.6 1020.6 L2864.3 1000.6 L2831.3 980 L2797.7 958.6 L2763.4 936.3 L2728.3 913.2 L2692.5 889.1 L2655.9 863.9 L2618.5 837.6 L2580.1 810 L2540.8 781.1 L2500.4 750.5 L2458.9 718.3 L2416.3 684.2 L2372.3 647.9 L2327 609.1 L2280.2 567.5 L2231.7 522.7 L2181.5 474.1 L2129.3 421.1 L2075 362.6 L2018.3 297.4 L1959 223.9 L1896.8 139.6 L1831.6 40.8 M3728.3 1374.7 L3704.6 1364 L3680.7 1353.1 L3656.5 1342 L3632.1 1330.7 L3607.3 1319.2 L3582.2 1307.5 L3556.9 1295.4 L3531.2 1283.2 L3505.2 1270.6 L3478.9 1257.8 L3452.3 1244.7 L3425.2 1231.3 L3397.9 1217.6 L3370.1 1203.5 L3341.9 1189.1 L3313.4 1174.3 L3284.4 1159.1 L3254.9 1143.5 L3225.1 1127.5 L3194.7 1111 L3163.8 1094 L3132.4 1076.5 L3100.5 1058.5 L3068 1039.8 L3034.9 1020.6 L3001.2 1000.6 L2966.8 980 L2931.8 958.6 L2896 936.3 L2859.4 913.2 L2822.1 889.1 L2783.9 863.9 L2744.7 837.6 L2704.7 810 L2663.5 781.1 L2621.3 750.5 L2577.9 718.3 L2533.3 684.2 L2487.2 647.9 L2439.7 609.1 L2390.6 567.5 L2339.7 522.7 L2286.9 474.1 L2231.9 421.1 L2174.7 362.6 L2114.8 297.4 L2052 223.9 L1986 139.6 L1916.5 40.8 M3893.2 1374.7 L3868.7 1364 L3843.9 1353.1 L3818.8 1342 L3793.4 1330.7 L3767.7 1319.2 L3741.8 1307.5 L3715.4 1295.4 L3688.8 1283.2 L3661.9 1270.6 L3634.5 1257.8 L3606.9 1244.7 L3578.8 1231.3 L3550.4 1217.6 L3521.6 1203.5 L3492.3 1189.1 L3462.7 1174.3 L3432.5 1159.1 L3402 1143.5 L3370.9 1127.5 L3339.3 1111 L3307.3 1094 L3274.6 1076.5 L3241.4 1058.5 L3207.6 1039.8 L3173.2 1020.6 L3138.1 1000.6 L3102.3 980 L3065.8 958.6 L3028.6 936.3 L2990.5 913.2 L2951.6 889.1 L2911.8 863.9 L2871 837.6 L2829.2 810 L2786.3 781.1 L2742.2 750.5 L2696.9 718.3 L2650.2 684.2 L2602.1 647.9 L2552.4 609.1 L2501 567.5 L2447.6 522.7 L2392.3 474.1 L2334.6 421.1 L2274.4 362.6 L2211.3 297.4 L2145.1 223.9 L2075.3 139.6 L2001.5 40.8 M4058.2 1374.7 L4032.8 1364 L4007.1 1353.1 L3981.1 1342 L3954.8 1330.7 L3928.2 1319.2 L3901.3 1307.5 L3874 1295.4 L3846.4 1283.2 L3818.5 1270.6 L3790.2 1257.8 L3761.5 1244.7 L3732.4 1231.3 L3702.9 1217.6 L3673 1203.5 L3642.7 1189.1 L3611.9 1174.3 L3580.7 1159.1 L3549 1143.5 L3516.7 1127.5 L3484 1111 L3450.7 1094 L3416.8 1076.5 L3382.3 1058.5 L3347.2 1039.8 L3311.5 1020.6 L3275 1000.6 L3237.9 980 L3199.9 958.6 L3161.2 936.3 L3121.6 913.2 L3081.1 889.1 L3039.7 863.9 L2997.3 837.6 L2953.7 810 L2909.1 781.1 L2863.1 750.5 L2815.9 718.3 L2767.2 684.2 L2717 647.9 L2665.1 609.1 L2611.4 567.5 L2555.6 522.7 L2497.6 474.1 L2437.2 421.1 L2374 362.6 L2307.8 297.4 L2238.1 223.9 L2164.5 139.6 L2086.4 40.8 M4223.1 1374.7 L4196.8 1364 L4170.2 1353.1 L4143.3 1342 L4116.1 1330.7 L4088.6 1319.2 L4060.8 1307.5 L4032.6 1295.4 L4004 1283.2 L3975.1 1270.6 L3945.8 1257.8 L3916.1 1244.7 L3886 1231.3 L3855.5 1217.6 L3824.5 1203.5 L3793.1 1189.1 L3761.2 1174.3 L3728.9 1159.1 L3696 1143.5 L3662.6 1127.5 L3628.6 1111 L3594.1 1094 L3559 1076.5 L3523.3 1058.5 L3486.9 1039.8 L3449.8 1020.6 L3412 1000.6 L3373.4 980 L3334 958.6 L3293.8 936.3 L3252.7 913.2 L3210.7 889.1 L3167.6 863.9 L3123.5 837.6 L3078.3 810 L3031.8 781.1 L2984 750.5 L2934.9 718.3 L2884.2 684.2 L2831.9 647.9 L2777.8 609.1 L2721.7 567.5 L2663.6 522.7 L2603 474.1 L2539.8 421.1 L2473.7 362.6 L2404.3 297.4 L2331.2 223.9 L2253.7 139.6 L2171.4 40.8 M4388 1374.7 L4360.9 1364 L4333.4 1353.1 L4305.6 1342 L4277.5 1330.7 L4249.1 1319.2 L4220.3 1307.5 L4191.1 1295.4 L4161.6 1283.2 L4131.7 1270.6 L4101.4 1257.8 L4070.7 1244.7 L4039.6 1231.3 L4008 1217.6 L3976 1203.5 L3943.5 1189.1 L3910.5 1174.3 L3877 1159.1 L3843 1143.5 L3808.4 1127.5 L3773.3 1111 L3737.6 1094 L3701.2 1076.5 L3664.2 1058.5 L3626.5 1039.8 L3588.1 1020.6 L3548.9 1000.6 L3508.9 980 L3468.1 958.6 L3426.4 936.3 L3383.8 913.2 L3340.2 889.1 L3295.6 863.9 L3249.8 837.6 L3202.8 810 L3154.6 781.1 L3105 750.5 L3053.9 718.3 L3001.2 684.2 L2946.8 647.9 L2890.5 609.1 L2832.1 567.5 L2771.5 522.7 L2708.4 474.1 L2642.5 421.1 L2573.4 362.6 L2500.8 297.4 L2424.2 223.9 L2342.9 139.6 L2256.3 40.8 M4553 1374.7 L4524.9 1364 L4496.6 1353.1 L4467.9 1342 L4438.9 1330.7 L4409.5 1319.2 L4379.8 1307.5 L4349.7 1295.4 L4319.2 1283.2 L4288.3 1270.6 L4257 1257.8 L4225.3 1244.7 L4193.1 1231.3 L4160.5 1217.6 L4127.4 1203.5 L4093.9 1189.1 L4059.8 1174.3 L4025.2 1159.1 L3990 1143.5 L3954.3 1127.5 L3918 1111 L3881 1094 L3843.4 1076.5 L3805.1 1058.5 L3766.1 1039.8 L3726.4 1020.6 L3685.8 1000.6 L3644.5 980 L3602.2 958.6 L3559.1 936.3 L3514.9 913.2 L3469.8 889.1 L3423.5 863.9 L3376 837.6 L3327.4 810 L3277.3 781.1 L3225.9 750.5 L3172.9 718.3 L3118.2 684.2 L3061.7 647.9 L3003.2 609.1 L2942.5 567.5 L2879.5 522.7 L2813.8 474.1 L2745.1 421.1 L2673.1 362.6 L2597.3 297.4 L2517.3 223.9 L2432.2 139.6 L2341.2 40.8 M4717.9 1374.7 L4689 1364 L4659.8 1353.1 L4630.2 1342 L4600.2 1330.7 L4570 1319.2 L4539.3 1307.5 L4508.2 1295.4 L4476.8 1283.2 L4444.9 1270.6 L4412.6 1257.8 L4379.9 1244.7 L4346.7 1231.3 L4313.1 1217.6 L4278.9 1203.5 L4244.3 1189.1 L4209.1 1174.3 L4173.3 1159.1 L4137 1143.5 L4100.1 1127.5 L4062.6 1111 L4024.4 1094 L3985.6 1076.5 L3946 1058.5 L3905.7 1039.8 L3864.7 1020.6 L3822.8 1000.6 L3780 980 L3736.3 958.6 L3691.7 936.3 L3646 913.2 L3599.3 889.1 L3551.4 863.9 L3502.3 837.6 L3451.9 810 L3400.1 781.1 L3346.8 750.5 L3291.8 718.3 L3235.2 684.2 L3176.6 647.9 L3115.9 609.1 L3052.9 567.5 L2987.4 522.7 L2919.1 474.1 L2847.7 421.1 L2772.8 362.6 L2693.9 297.4 L2610.3 223.9 L2521.4 139.6 L2426.2 40.8 M4882.8 1374.7 L4853 1364 L4822.9 1353.1 L4792.4 1342 L4761.6 1330.7 L4730.4 1319.2 L4698.8 1307.5 L4666.8 1295.4 L4634.4 1283.2 L4601.5 1270.6 L4568.2 1257.8 L4534.5 1244.7 L4500.3 1231.3 L4465.6 1217.6 L4430.4 1203.5 L4394.6 1189.1 L4358.4 1174.3 L4321.5 1159.1 L4284 1143.5 L4246 1127.5 L4207.3 1111 L4167.9 1094 L4127.8 1076.5 L4087 1058.5 L4045.4 1039.8 L4002.9 1020.6 L3959.7 1000.6 L3915.5 980 L3870.4 958.6 L3824.3 936.3 L3777.1 913.2 L3728.8 889.1 L3679.3 863.9 L3628.6 837.6 L3576.4 810 L3522.9 781.1 L3467.7 750.5 L3410.8 718.3 L3352.1 684.2 L3291.4 647.9 L3228.6 609.1 L3163.3 567.5 L3095.4 522.7 L3024.5 474.1 L2950.4 421.1 L2872.5 362.6 L2790.4 297.4 L2703.3 223.9 L2610.6 139.6 L2511.1 40.8 M5047.8 1374.7 L5017.1 1364 L4986.1 1353.1 L4954.7 1342 L4923 1330.7 L4890.8 1319.2 L4858.3 1307.5 L4825.3 1295.4 L4792 1283.2 L4758.1 1270.6 L4723.9 1257.8 L4689.1 1244.7 L4653.9 1231.3 L4618.1 1217.6 L4581.9 1203.5 L4545 1189.1 L4507.6 1174.3 L4469.7 1159.1 L4431.1 1143.5 L4391.8 1127.5 L4351.9 1111 L4311.3 1094 L4270 1076.5 L4227.9 1058.5 L4185 1039.8 L4141.2 1020.6 L4096.6 1000.6 L4051.1 980 L4004.5 958.6 L3956.9 936.3 L3908.2 913.2 L3858.4 889.1 L3807.3 863.9 L3754.8 837.6 L3701 810 L3645.6 781.1 L3588.6 750.5 L3529.8 718.3 L3469.1 684.2 L3406.3 647.9 L3341.3 609.1 L3273.7 567.5 L3203.3 522.7 L3129.9 474.1 L3053 421.1 L2972.2 362.6 L2886.9 297.4 L2796.4 223.9 L2699.8 139.6 L2596.1 40.8 M5212.7 1374.7 L5181.2 1364 L5149.3 1353.1 L5117 1342 L5084.3 1330.7 L5051.3 1319.2 L5017.8 1307.5 L4983.9 1295.4 L4949.6 1283.2 L4914.8 1270.6 L4879.5 1257.8 L4843.7 1244.7 L4807.5 1231.3 L4770.7 1217.6 L4733.3 1203.5 L4695.4 1189.1 L4656.9 1174.3 L4617.8 1159.1 L4578.1 1143.5 L4537.7 1127.5 L4496.6 1111 L4454.8 1094 L4412.2 1076.5 L4368.8 1058.5 L4324.6 1039.8 L4279.5 1020.6 L4233.5 1000.6 L4186.6 980 L4138.6 958.6 L4089.5 936.3 L4039.3 913.2 L3987.9 889.1 L3935.2 863.9 L3881.1 837.6 L3825.5 810 L3768.4 781.1 L3709.5 750.5 L3648.8 718.3 L3586.1 684.2 L3521.2 647.9 L3454 609.1 L3384.1 567.5 L3311.3 522.7 L3235.3 474.1 L3155.6 421.1 L3071.9 362.6 L2983.4 297.4 L2889.4 223.9 L2789.1 139.6 L2681 40.8 M5377.6 1374.7 L5345.2 1364 L5312.4 1353.1 L5279.3 1342 L5245.7 1330.7 L5211.7 1319.2 L5177.3 1307.5 L5142.5 1295.4 L5107.2 1283.2 L5071.4 1270.6 L5035.1 1257.8 L4998.3 1244.7 L4961 1231.3 L4923.2 1217.6 L4884.8 1203.5 L4845.8 1189.1 L4806.2 1174.3 L4766 1159.1 L4725.1 1143.5 L4683.5 1127.5 L4641.2 1111 L4598.2 1094 L4554.4 1076.5 L4509.7 1058.5 L4464.2 1039.8 L4417.8 1020.6 L4370.5 1000.6 L4322.1 980 L4272.7 958.6 L4222.2 936.3 L4170.4 913.2 L4117.4 889.1 L4063.1 863.9 L4007.4 837.6 L3950.1 810 L3891.1 781.1 L3830.4 750.5 L3767.8 718.3 L3703.1 684.2 L3636.1 647.9 L3566.7 609.1 L3494.5 567.5 L3419.3 522.7 L3340.7 474.1 L3258.3 421.1 L3171.5 362.6 L3079.9 297.4 L2982.5 223.9 L2878.3 139.6 L2766 40.8 M5542.5 1374.7 L5509.3 1364 L5475.6 1353.1 L5441.6 1342 L5407.1 1330.7 L5372.2 1319.2 L5336.8 1307.5 L5301 1295.4 L5264.7 1283.2 L5228 1270.6 L5190.7 1257.8 L5152.9 1244.7 L5114.6 1231.3 L5075.7 1217.6 L5036.3 1203.5 L4996.2 1189.1 L4955.5 1174.3 L4914.1 1159.1 L4872.1 1143.5 L4829.4 1127.5 L4785.9 1111 L4741.6 1094 L4696.6 1076.5 L4650.7 1058.5 L4603.9 1039.8 L4556.1 1020.6 L4507.4 1000.6 L4457.6 980 L4406.8 958.6 L4354.8 936.3 L4301.5 913.2 L4247 889.1 L4191 863.9 L4133.6 837.6 L4074.6 810 L4013.9 781.1 L3951.3 750.5 L3886.8 718.3 L3820.1 684.2 L3751 647.9 L3679.4 609.1 L3604.9 567.5 L3527.2 522.7 L3446 474.1 L3360.9 421.1 L3271.2 362.6 L3176.4 297.4 L3075.5 223.9 L2967.5 139.6 L2850.9 40.8 M5707.5 1374.7 L5673.3 1364 L5638.8 1353.1 L5603.8 1342 L5568.4 1330.7 L5532.6 1319.2 L5496.3 1307.5 L5459.6 1295.4 L5422.3 1283.2 L5384.6 1270.6 L5346.3 1257.8 L5307.5 1244.7 L5268.2 1231.3 L5228.3 1217.6 L5187.7 1203.5 L5146.6 1189.1 L5104.8 1174.3 L5062.3 1159.1 L5019.1 1143.5 L4975.2 1127.5 L4930.5 1111 L4885.1 1094 L4838.8 1076.5 L4791.6 1058.5 L4743.5 1039.8 L4694.4 1020.6 L4644.3 1000.6 L4593.2 980 L4540.9 958.6 L4487.4 936.3 L4432.6 913.2 L4376.5 889.1 L4319 863.9 L4259.9 837.6 L4199.1 810 L4136.6 781.1 L4072.2 750.5 L4005.8 718.3 L3937.1 684.2 L3865.9 647.9 L3792 609.1 L3715.2 567.5 L3635.2 522.7 L3551.4 474.1 L3463.5 421.1 L3370.9 362.6 L3272.9 297.4 L3168.6 223.9 L3056.7 139.6 L2935.8 40.8 M5872.4 1374.7 L5837.4 1364 L5802 1353.1 L5766.1 1342 L5729.8 1330.7 L5693.1 1319.2 L5655.8 1307.5 L5618.1 1295.4 L5579.9 1283.2 L5541.2 1270.6 L5502 1257.8 L5462.1 1244.7 L5421.8 1231.3 L5380.8 1217.6 L5339.2 1203.5 L5297 1189.1 L5254.1 1174.3 L5210.5 1159.1 L5166.1 1143.5 L5121.1 1127.5 L5075.2 1111 L5028.5 1094 L4981 1076.5 L4932.5 1058.5 L4883.1 1039.8 L4832.7 1020.6 L4781.3 1000.6 L4728.7 980 L4675 958.6 L4620 936.3 L4563.7 913.2 L4506.1 889.1 L4446.9 863.9 L4386.1 837.6 L4323.7 810 L4259.4 781.1 L4193.1 750.5 L4124.8 718.3 L4054 684.2 L3980.8 647.9 L3904.7 609.1 L3825.6 567.5 L3743.1 522.7 L3656.8 474.1 L3566.2 421.1 L3470.6 362.6 L3369.4 297.4 L3261.6 223.9 L3146 139.6 L3020.8 40.8" stroke="#ff0000" stroke-opacity="0.3" stroke-width="3.25" fill="none" stroke-dasharray="12.15 5.3"/>
<path d="M924.3 1374.7 L915.7 1364 L906.9 1353.1 L898.2 1342 L889.3 1330.7 L880.3 1319.2 L871.3 1307.5 L862.2 1295.4 L853 1283.2 L843.8 1270.6 L834.4 1257.8 L825 1244.7 L815.5 1231.3 L806 1217.6 L796.3 1203.5 L786.6 1189.1 L776.8 1174.3 L766.9 1159.1 L757 1143.5 L746.9 1127.5 L736.8 1111 L726.7 1094 L716.4 1076.5 L706.1 1058.5 L695.7 1039.8 L685.2 1020.6 L674.7 1000.6 L664.1 980 L653.4 958.6 L642.7 936.3 L631.9 913.2 L621.1 889.1 L610.3 863.9 L599.5 837.6 L588.6 810 L577.8 781.1 L567 750.5 L556.3 718.3 L545.7 684.2 L535.2 647.9 L524.9 609.1 L515 567.5 L505.4 522.7 L496.4 474.1 L488.2 421.1 L480.9 362.6 L475.1 297.4 L471.2 223.9 L470.1 139.6 L473.3 40.8 M1006.6 1374.7 L997.7 1364 L988.6 1353.1 L979.5 1342 L970.3 1330.7 L961 1319.2 L951.6 1307.5 L942.1 1295.4 L932.5 1283.2 L922.8 1270.6 L913 1257.8 L903.1 1244.7 L893.2 1231.3 L883.1 1217.6 L872.9 1203.5 L862.7 1189.1 L852.4 1174.3 L842 1159.1 L831.4 1143.5 L820.8 1127.5 L810.1 1111 L799.4 1094 L788.5 1076.5 L777.5 1058.5 L766.5 1039.8 L755.3 1020.6 L744.1 1000.6 L732.8 980 L721.4 958.6 L710 936.3 L698.4 913.2 L686.8 889.1 L675.2 863.9 L663.5 837.6 L651.8 810 L640.1 781.1 L628.3 750.5 L616.6 718.3 L605 684.2 L593.5 647.9 L582.1 609.1 L571 567.5 L560.2 522.7 L549.9 474.1 L540.2 421.1 L531.5 362.6 L524 297.4 L518.3 223.9 L515.3 139.6 L516.4 40.8 M1088.9 1374.7 L1079.7 1364 L1070.4 1353.1 L1061 1342 L1051.5 1330.7 L1041.8 1319.2 L1032.1 1307.5 L1022.2 1295.4 L1012.3 1283.2 L1002.2 1270.6 L992 1257.8 L981.7 1244.7 L971.3 1231.3 L960.8 1217.6 L950.1 1203.5 L939.4 1189.1 L928.5 1174.3 L917.6 1159.1 L906.5 1143.5 L895.4 1127.5 L884.1 1111 L872.7 1094 L861.2 1076.5 L849.6 1058.5 L837.9 1039.8 L826.1 1020.6 L814.2 1000.6 L802.2 980 L790.1 958.6 L777.8 936.3 L765.5 913.2 L753.2 889.1 L740.7 863.9 L728.2 837.6 L715.6 810 L702.9 781.1 L690.2 750.5 L677.5 718.3 L664.9 684.2 L652.3 647.9 L639.8 609.1 L627.5 567.5 L615.5 522.7 L603.8 474.1 L592.8 421.1 L582.5 362.6 L573.4 297.4 L566 223.9 L561 139.6 L559.9 40.8 M1171 1374.7 L1161.7 1364 L1152.3 1353.1 L1142.7 1342 L1132.9 1330.7 L1123.1 1319.2 L1113 1307.5 L1102.9 1295.4 L1092.6 1283.2 L1082.2 1270.6 L1071.7 1257.8 L1061 1244.7 L1050.2 1231.3 L1039.2 1217.6 L1028.1 1203.5 L1016.9 1189.1 L1005.6 1174.3 L994.1 1159.1 L982.5 1143.5 L970.8 1127.5 L959 1111 L947 1094 L934.9 1076.5 L922.7 1058.5 L910.3 1039.8 L897.8 1020.6 L885.2 1000.6 L872.5 980 L859.7 958.6 L846.7 936.3 L833.6 913.2 L820.4 889.1 L807.1 863.9 L793.7 837.6 L780.2 810 L766.7 781.1 L753 750.5 L739.3 718.3 L725.6 684.2 L711.9 647.9 L698.3 609.1 L684.8 567.5 L671.5 522.7 L658.6 474.1 L646.1 421.1 L634.3 362.6 L623.5 297.4 L614.3 223.9 L607.4 139.6 L604 40.8 M1253 1374.7 L1243.7 1364 L1234.2 1353.1 L1224.6 1342 L1214.8 1330.7 L1204.8 1319.2 L1194.6 1307.5 L1184.3 1295.4 L1173.8 1283.2 L1163.1 1270.6 L1152.3 1257.8 L1141.3 1244.7 L1130.2 1231.3 L1118.8 1217.6 L1107.4 1203.5 L1095.7 1189.1 L1084 1174.3 L1072 1159.1 L1059.9 1143.5 L1047.7 1127.5 L1035.3 1111 L1022.7 1094 L1010 1076.5 L997.2 1058.5 L984.2 1039.8 L971.1 1020.6 L957.8 1000.6 L944.3 980 L930.7 958.6 L917 936.3 L903.1 913.2 L889.1 889.1 L875 863.9 L860.7 837.6 L846.3 810 L831.8 781.1 L817.1 750.5 L802.4 718.3 L787.7 684.2 L772.9 647.9 L758.1 609.1 L743.4 567.5 L728.8 522.7 L714.5 474.1 L700.5 421.1 L687.2 362.6 L674.7 297.4 L663.7 223.9 L654.7 139.6 L649 40.8 M1334.8 1374.7 L1325.7 1364 L1316.4 1353.1 L1306.8 1342 L1297.1 1330.7 L1287.1 1319.2 L1277 1307.5 L1266.6 1295.4 L1256 1283.2 L1245.2 1270.6 L1234.3 1257.8 L1223.1 1244.7 L1211.7 1231.3 L1200.1 1217.6 L1188.3 1203.5 L1176.4 1189.1 L1164.2 1174.3 L1151.9 1159.1 L1139.3 1143.5 L1126.6 1127.5 L1113.7 1111 L1100.6 1094 L1087.3 1076.5 L1073.9 1058.5 L1060.2 1039.8 L1046.4 1020.6 L1032.5 1000.6 L1018.3 980 L1004 958.6 L989.4 936.3 L974.8 913.2 L959.9 889.1 L944.9 863.9 L929.7 837.6 L914.4 810 L898.9 781.1 L883.3 750.5 L867.5 718.3 L851.7 684.2 L835.7 647.9 L819.8 609.1 L803.8 567.5 L787.9 522.7 L772.1 474.1 L756.7 421.1 L741.7 362.6 L727.5 297.4 L714.6 223.9 L703.5 139.6 L695.5 40.8 M1416.4 1374.7 L1407.7 1364 L1398.7 1353.1 L1389.5 1342 L1380 1330.7 L1370.3 1319.2 L1360.3 1307.5 L1350.1 1295.4 L1339.7 1283.2 L1328.9 1270.6 L1318 1257.8 L1306.8 1244.7 L1295.3 1231.3 L1283.6 1217.6 L1271.7 1203.5 L1259.5 1189.1 L1247.1 1174.3 L1234.4 1159.1 L1221.5 1143.5 L1208.4 1127.5 L1195 1111 L1181.5 1094 L1167.7 1076.5 L1153.6 1058.5 L1139.4 1039.8 L1124.9 1020.6 L1110.3 1000.6 L1095.4 980 L1080.3 958.6 L1065 936.3 L1049.5 913.2 L1033.8 889.1 L1017.9 863.9 L1001.8 837.6 L985.5 810 L969 781.1 L952.3 750.5 L935.5 718.3 L918.5 684.2 L901.4 647.9 L884.1 609.1 L866.8 567.5 L849.5 522.7 L832.3 474.1 L815.3 421.1 L798.7 362.6 L782.7 297.4 L767.7 223.9 L754.5 139.6 L744 40.8 M1497.8 1374.7 L1489.6 1364 L1481.2 1353.1 L1472.6 1342 L1463.6 1330.7 L1454.4 1319.2 L1444.9 1307.5 L1435.1 1295.4 L1425 1283.2 L1414.6 1270.6 L1403.9 1257.8 L1392.9 1244.7 L1381.6 1231.3 L1370 1217.6 L1358.1 1203.5 L1345.9 1189.1 L1333.4 1174.3 L1320.6 1159.1 L1307.5 1143.5 L1294.1 1127.5 L1280.4 1111 L1266.4 1094 L1252.2 1076.5 L1237.7 1058.5 L1222.9 1039.8 L1207.8 1020.6 L1192.5 1000.6 L1176.9 980 L1161.1 958.6 L1145 936.3 L1128.7 913.2 L1112.1 889.1 L1095.3 863.9 L1078.2 837.6 L1060.9 810 L1043.3 781.1 L1025.6 750.5 L1007.6 718.3 L989.4 684.2 L971 647.9 L952.4 609.1 L933.7 567.5 L914.9 522.7 L896.2 474.1 L877.5 421.1 L859.1 362.6 L841.1 297.4 L824.1 223.9 L808.5 139.6 L795.5 40.8 M1578.9 1374.7 L1571.6 1364 L1564 1353.1 L1556.2 1342 L1548 1330.7 L1539.6 1319.2 L1530.8 1307.5 L1521.7 1295.4 L1512.2 1283.2 L1502.5 1270.6 L1492.3 1257.8 L1481.9 1244.7 L1471 1231.3 L1459.8 1217.6 L1448.2 1203.5 L1436.3 1189.1 L1424 1174.3 L1411.3 1159.1 L1398.2 1143.5 L1384.8 1127.5 L1371 1111 L1356.8 1094 L1342.3 1076.5 L1327.5 1058.5 L1312.2 1039.8 L1296.7 1020.6 L1280.8 1000.6 L1264.6 980 L1248.1 958.6 L1231.2 936.3 L1214 913.2 L1196.6 889.1 L1178.8 863.9 L1160.7 837.6 L1142.3 810 L1123.7 781.1 L1104.7 750.5 L1085.5 718.3 L1066 684.2 L1046.2 647.9 L1026.2 609.1 L1006 567.5 L985.7 522.7 L965.2 474.1 L944.7 421.1 L924.4 362.6 L904.4 297.4 L885 223.9 L867 139.6 L851.1 40.8 M1659.7 1374.7 L1653.5 1364 L1647 1353.1 L1640.2 1342 L1633.1 1330.7 L1625.7 1319.2 L1617.9 1307.5 L1609.8 1295.4 L1601.4 1283.2 L1592.6 1270.6 L1583.4 1257.8 L1573.8 1244.7 L1563.8 1231.3 L1553.4 1217.6 L1542.6 1203.5 L1531.3 1189.1 L1519.6 1174.3 L1507.4 1159.1 L1494.7 1143.5 L1481.7 1127.5 L1468.1 1111 L1454.1 1094 L1439.6 1076.5 L1424.6 1058.5 L1409.2 1039.8 L1393.4 1020.6 L1377.1 1000.6 L1360.4 980 L1343.3 958.6 L1325.7 936.3 L1307.8 913.2 L1289.5 889.1 L1270.7 863.9 L1251.6 837.6 L1232.1 810 L1212.3 781.1 L1192.1 750.5 L1171.5 718.3 L1150.6 684.2 L1129.4 647.9 L1107.8 609.1 L1085.9 567.5 L1063.8 522.7 L1041.5 474.1 L1019 421.1 L996.5 362.6 L974.2 297.4 L952.4 223.9 L931.6 139.6 L912.6 40.8 M1740.5 1374.7 L1735.4 1364 L1730.1 1353.1 L1724.5 1342 L1718.7 1330.7 L1712.5 1319.2 L1706.1 1307.5 L1699.3 1295.4 L1692.2 1283.2 L1684.7 1270.6 L1676.8 1257.8 L1668.5 1244.7 L1659.8 1231.3 L1650.6 1217.6 L1641 1203.5 L1630.9 1189.1 L1620.3 1174.3 L1609.2 1159.1 L1597.5 1143.5 L1585.3 1127.5 L1572.5 1111 L1559.2 1094 L1545.2 1076.5 L1530.7 1058.5 L1515.6 1039.8 L1499.9 1020.6 L1483.6 1000.6 L1466.7 980 L1449.3 958.6 L1431.3 936.3 L1412.7 913.2 L1393.7 889.1 L1374.1 863.9 L1354 837.6 L1333.4 810 L1312.3 781.1 L1290.7 750.5 L1268.7 718.3 L1246.3 684.2 L1223.4 647.9 L1200.1 609.1 L1176.4 567.5 L1152.3 522.7 L1127.8 474.1 L1103.1 421.1 L1078.2 362.6 L1053.3 297.4 L1028.7 223.9 L1004.7 139.6 L982.2 40.8 M1821.2 1374.7 L1817.3 1364 L1813.3 1353.1 L1809.1 1342 L1804.6 1330.7 L1799.9 1319.2 L1794.9 1307.5 L1789.6 1295.4 L1784 1283.2 L1778 1270.6 L1771.8 1257.8 L1765.1 1244.7 L1758.1 1231.3 L1750.6 1217.6 L1742.7 1203.5 L1734.3 1189.1 L1725.4 1174.3 L1715.9 1159.1 L1705.9 1143.5 L1695.2 1127.5 L1684 1111 L1672.1 1094 L1659.4 1076.5 L1646.1 1058.5 L1632.1 1039.8 L1617.3 1020.6 L1601.7 1000.6 L1585.4 980 L1568.2 958.6 L1550.4 936.3 L1531.7 913.2 L1512.3 889.1 L1492.2 863.9 L1471.3 837.6 L1449.8 810 L1427.5 781.1 L1404.7 750.5 L1381.2 718.3 L1357 684.2 L1332.3 647.9 L1307.1 609.1 L1281.2 567.5 L1254.9 522.7 L1228 474.1 L1200.7 421.1 L1173 362.6 L1145.1 297.4 L1117.2 223.9 L1089.6 139.6 L1063 40.8 M1901.8 1374.7 L1899.3 1364 L1896.5 1353.1 L1893.6 1342 L1890.5 1330.7 L1887.2 1319.2 L1883.8 1307.5 L1880 1295.4 L1876.1 1283.2 L1871.8 1270.6 L1867.3 1257.8 L1862.5 1244.7 L1857.4 1231.3 L1851.9 1217.6 L1846 1203.5 L1839.7 1189.1 L1832.9 1174.3 L1825.6 1159.1 L1817.8 1143.5 L1809.5 1127.5 L1800.5 1111 L1790.9 1094 L1780.5 1076.5 L1769.4 1058.5 L1757.5 1039.8 L1744.8 1020.6 L1731.1 1000.6 L1716.5 980 L1700.8 958.6 L1684.2 936.3 L1666.5 913.2 L1647.8 889.1 L1628 863.9 L1607.2 837.6 L1585.3 810 L1562.4 781.1 L1538.6 750.5 L1513.8 718.3 L1488.1 684.2 L1461.5 647.9 L1434.1 609.1 L1405.9 567.5 L1377 522.7 L1347.3 474.1 L1316.9 421.1 L1285.9 362.6 L1254.4 297.4 L1222.6 223.9 L1190.6 139.6 L1159.3 40.8 M1982.6 1374.7 L1981.2 1364 L1979.7 1353.1 L1978 1342 L1976.3 1330.7 L1974.4 1319.2 L1972.3 1307.5 L1970.1 1295.4 L1967.7 1283.2 L1965.2 1270.6 L1962.4 1257.8 L1959.5 1244.7 L1956.2 1231.3 L1952.8 1217.6 L1949 1203.5 L1944.9 1189.1 L1940.5 1174.3 L1935.7 1159.1 L1930.5 1143.5 L1924.8 1127.5 L1918.6 1111 L1911.9 1094 L1904.5 1076.5 L1896.5 1058.5 L1887.8 1039.8 L1878.2 1020.6 L1867.8 1000.6 L1856.4 980 L1843.9 958.6 L1830.3 936.3 L1815.4 913.2 L1799.2 889.1 L1781.7 863.9 L1762.7 837.6 L1742.2 810 L1720.1 781.1 L1696.6 750.5 L1671.5 718.3 L1645 684.2 L1617 647.9 L1587.8 609.1 L1557.2 567.5 L1525.5 522.7 L1492.6 474.1 L1458.7 421.1 L1423.7 362.6 L1387.9 297.4 L1351.2 223.9 L1314.1 139.6 L1276.8 40.8 M2063.5 1374.7 L2063.1 1364 L2062.7 1353.1 L2062.2 1342 L2061.6 1330.7 L2061 1319.2 L2060.2 1307.5 L2059.4 1295.4 L2058.5 1283.2 L2057.4 1270.6 L2056.3 1257.8 L2055 1244.7 L2053.6 1231.3 L2052 1217.6 L2050.2 1203.5 L2048.2 1189.1 L2046 1174.3 L2043.6 1159.1 L2040.9 1143.5 L2037.9 1127.5 L2034.5 1111 L2030.8 1094 L2026.7 1076.5 L2022.1 1058.5 L2016.9 1039.8 L2011.2 1020.6 L2004.7 1000.6 L1997.5 980 L1989.5 958.6 L1980.4 936.3 L1970.3 913.2 L1958.9 889.1 L1946 863.9 L1931.7 837.6 L1915.5 810 L1897.5 781.1 L1877.4 750.5 L1855.1 718.3 L1830.5 684.2 L1803.5 647.9 L1774.2 609.1 L1742.6 567.5 L1708.8 522.7 L1672.9 474.1 L1635.2 421.1 L1595.8 362.6 L1554.8 297.4 L1512.3 223.9 L1468.5 139.6 L1423.9 40.8 M2144.5 1374.7 L2145.1 1364 L2145.6 1353.1 L2146 1342 L2146.5 1330.7 L2146.9 1319.2 L2147.3 1307.5 L2147.6 1295.4 L2148 1283.2 L2148.2 1270.6 L2148.4 1257.8 L2148.6 1244.7 L2148.7 1231.3 L2148.7 1217.6 L2148.6 1203.5 L2148.5 1189.1 L2148.2 1174.3 L2147.8 1159.1 L2147.3 1143.5 L2146.6 1127.5 L2145.8 1111 L2144.7 1094 L2143.5 1076.5 L2141.9 1058.5 L2140.1 1039.8 L2137.9 1020.6 L2135.4 1000.6 L2132.3 980 L2128.8 958.6 L2124.7 936.3 L2119.8 913.2 L2114.1 889.1 L2107.4 863.9 L2099.6 837.6 L2090.4 810 L2079.6 781.1 L2066.9 750.5 L2052 718.3 L2034.5 684.2 L2014.1 647.9 L1990.3 609.1 L1962.8 567.5 L1931.5 522.7 L1896.1 474.1 L1856.8 421.1 L1813.9 362.6 L1767.6 297.4 L1718.4 223.9 L1666.6 139.6 L1612.6 40.8 M2225.7 1374.7 L2227 1364 L2228.3 1353.1 L2229.6 1342 L2230.9 1330.7 L2232.2 1319.2 L2233.5 1307.5 L2234.8 1295.4 L2236.1 1283.2 L2237.4 1270.6 L2238.8 1257.8 L2240.1 1244.7 L2241.4 1231.3 L2242.8 1217.6 L2244.1 1203.5 L2245.4 1189.1 L2246.7 1174.3 L2247.9 1159.1 L2249.1 1143.5 L2250.3 1127.5 L2251.5 1111 L2252.6 1094 L2253.6 1076.5 L2254.5 1058.5 L2255.3 1039.8 L2256.1 1020.6 L2256.6 1000.6 L2257 980 L2257.2 958.6 L2257.1 936.3 L2256.7 913.2 L2256 889.1 L2254.8 863.9 L2253 837.6 L2250.6 810 L2247.3 781.1 L2243 750.5 L2237.4 718.3 L2230.2 684.2 L2220.9 647.9 L2209.1 609.1 L2194 567.5 L2174.7 522.7 L2150.4 474.1 L2119.9 421.1 L2082.4 362.6 L2037.3 297.4 L1984.7 223.9 L1925.5 139.6 L1860.6 40.8 M2307.1 1374.7 L2309 1364 L2310.9 1353.1 L2312.8 1342 L2314.8 1330.7 L2316.8 1319.2 L2318.8 1307.5 L2320.9 1295.4 L2323 1283.2 L2325.2 1270.6 L2327.4 1257.8 L2329.7 1244.7 L2331.9 1231.3 L2334.3 1217.6 L2336.7 1203.5 L2339.1 1189.1 L2341.6 1174.3 L2344.1 1159.1 L2346.6 1143.5 L2349.2 1127.5 L2351.9 1111 L2354.6 1094 L2357.3 1076.5 L2360.1 1058.5 L2362.9 1039.8 L2365.7 1020.6 L2368.6 1000.6 L2371.5 980 L2374.4 958.6 L2377.2 936.3 L2380.1 913.2 L2383 889.1 L2385.7 863.9 L2388.4 837.6 L2391 810 L2393.3 781.1 L2395.3 750.5 L2397 718.3 L2398.2 684.2 L2398.6 647.9 L2398.1 609.1 L2396.2 567.5 L2392.5 522.7 L2386.1 474.1 L2375.9 421.1 L2360.2 362.6 L2336.7 297.4 L2302.2 223.9 L2253.2 139.6 L2187.5 40.8 M2388.6 1374.7 L2390.9 1364 L2393.3 1353.1 L2395.8 1342 L2398.3 1330.7 L2400.8 1319.2 L2403.4 1307.5 L2406.1 1295.4 L2408.8 1283.2 L2411.6 1270.6 L2414.5 1257.8 L2417.4 1244.7 L2420.5 1231.3 L2423.6 1217.6 L2426.7 1203.5 L2430 1189.1 L2433.4 1174.3 L2436.8 1159.1 L2440.4 1143.5 L2444 1127.5 L2447.7 1111 L2451.6 1094 L2455.5 1076.5 L2459.6 1058.5 L2463.8 1039.8 L2468.2 1020.6 L2472.6 1000.6 L2477.3 980 L2482 958.6 L2487 936.3 L2492.1 913.2 L2497.3 889.1 L2502.8 863.9 L2508.4 837.6 L2514.2 810 L2520.2 781.1 L2526.3 750.5 L2532.7 718.3 L2539.2 684.2 L2545.8 647.9 L2552.5 609.1 L2559.3 567.5 L2565.9 522.7 L2572.2 474.1 L2577.8 421.1 L2582.2 362.6 L2584.3 297.4 L2582.5 223.9 L2573.3 139.6 L2550.3 40.8 M2470.2 1374.7 L2472.9 1364 L2475.7 1353.1 L2478.5 1342 L2481.4 1330.7 L2484.4 1319.2 L2487.4 1307.5 L2490.5 1295.4 L2493.7 1283.2 L2497 1270.6 L2500.3 1257.8 L2503.8 1244.7 L2507.3 1231.3 L2511 1217.6 L2514.8 1203.5 L2518.6 1189.1 L2522.6 1174.3 L2526.7 1159.1 L2531 1143.5 L2535.3 1127.5 L2539.9 1111 L2544.5 1094 L2549.4 1076.5 L2554.4 1058.5 L2559.5 1039.8 L2564.9 1020.6 L2570.5 1000.6 L2576.3 980 L2582.3 958.6 L2588.6 936.3 L2595.2 913.2 L2602 889.1 L2609.2 863.9 L2616.7 837.6 L2624.6 810 L2632.9 781.1 L2641.6 750.5 L2650.8 718.3 L2660.5 684.2 L2670.8 647.9 L2681.7 609.1 L2693.3 567.5 L2705.7 522.7 L2719 474.1 L2733.1 421.1 L2748.2 362.6 L2764.3 297.4 L2781.3 223.9 L2798.8 139.6 L2815.5 40.8" stroke="#0000ff" stroke-opacity="0.3" stroke-width="3.25" fill="none" stroke-dasharray="12.15 5.3"/>
<path d="M1983.5 40.7 L1966.8 90.1 L1969 111.1 L1935.6 130.7 L1932.7 199.7 L1910.9 225.8 L1934.4 269.8 L1912.6 288.6 L1902.5 348.1 L1942.4 409.1 L1914.1 417.8 L1893.8 438.1 L1894.8 444.2 L1876.2 450.3 L1861.7 464.1 L1839.9 467 L1829 475 L1790.5 480.1 L1770.9 506.2 L1728.1 525.8 L1709.3 547.6 L1677.3 567.2 L1680.2 593.3 L1735.8 674.5 L1752.2 695.8 L1748.9 715.1 L1772.1 741.3 L1758.8 774.5 L1772.5 813.7 L1767.3 824.8 L1774.2 835 L1787.8 851.2 L1776.7 881.9 L1803.2 926.2 L1764.8 936.5 L1735 966.3 L1734.1 970.6 L1758 996.1 L1756.5 1006.5 L1758.7 1016 L1762.3 1018.9 L1761.6 1028.3 L1773.9 1038.5 L1794.2 1074 L1799.3 1094.3 L1814.6 1119 L1809.5 1158.2 L1805.8 1168.4 L1824 1193.8 L1825.4 1200.8 L1837 1208 L1840 1213.3 L1850.9 1224.5 L1846.8 1235.4 L1869.6 1259.8 L1857.3 1269.5 L1862.5 1280 L1852 1286.4" stroke="#ff0000" stroke-width="4.8" fill="none" stroke-linejoin="round" stroke-linecap="square"/>
<path d="M1557.9 40.7 L1507.8 90.1 L1493.3 110.4 L1461.3 130 L1424.3 199.7 L1401.8 225 L1395 269 L1371.8 288.6 L1360.9 348.1 L1369.6 409.1 L1340.6 417.8 L1320.3 438.8 L1321.7 444 L1302.1 449.8 L1322.5 464.1 L1315.2 466.3 L1337.7 474.3 L1314.5 480.1 L1360.2 505.5 L1416.1 525.8 L1446.6 547.6 L1464 566.4 L1467.6 593.3 L1422.6 671.4 L1441.5 696 L1421.2 715.6 L1378.3 741.8 L1366 773.7 L1346.4 812.9 L1489.4 825.2 L1464 836.6 L1460.3 851 L1322.5 863.4 L1448 882.2 L1410.3 926.5 L1403.7 936.7 L1392.1 964.3 L1405.9 970.1 L1380.5 996.2 L1412.4 1007.1 L1663.6 1018.1 L1709.3 1028.3 L1741.3 1031.2 L1773.9 1038.5 L1747.1 1074 L1779.7 1094.3 L1772.5 1118.3 L1799.3 1134.3 L1745.6 1158.2 L1722.4 1169.1 L1678.1 1193.8 L1564.6 1201.8 L1608.1 1208.3 L1544.3 1212.7 L1539.2 1224.3 L1649.5 1235.2 L1656 1259.8 L1692.3 1269.3 L1698.1 1280.1 L1724.2 1286" stroke="#0000ff" stroke-width="4.8" fill="none" stroke-linejoin="round" stroke-linecap="square"/>
</g>
<clipPath id="bclipb"><rect x="0" y="1.1" width="2067" height="1466"/></clipPath><path clip-path="url(#bclipb)" d="M2054.2 -7 L2001.4 10.2 L2001.2 -13.1 L2014.6 5.9 L2021.2 3.7 L2007.8 -15.2 L2021.2 3.7 L2027.8 1.6 L2014.3 -17.4 L2027.8 1.6 L2034.4 -0.6 L2020.9 -19.5 L2034.4 -0.6Z M2054.2 111.1 L2000.9 126.4 L2001.4 103.2 L2014.2 122.6 L2020.9 120.7 L2008.1 101.3 L2020.9 120.7 L2027.5 118.8 L2014.7 99.3 L2027.5 118.8 L2034.2 116.8 L2021.4 97.4 L2034.2 116.8Z M2054.2 200.2 L2001.9 218.9 L2001 195.6 L2015 214.2 L2021.5 211.9 L2007.5 193.3 L2021.5 211.9 L2028.1 209.5 L2014.1 191 L2028.1 209.5 L2034.6 207.2 L2020.6 188.6 L2034.6 207.2Z M2054.2 273.9 L2003.7 296.9 L2000.8 273.8 L2016.3 291.1 L2022.6 288.3 L2007.1 270.9 L2022.6 288.3 L2028.9 285.4 L2013.4 268 L2028.9 285.4 L2035.3 282.5 L2019.8 265.2 L2035.3 282.5 L2041.6 279.6 L2033.8 271 L2041.6 279.6Z M2054.2 409.3 L2001.7 427.4 L2001.1 404.1 L2014.8 422.8 L2021.4 420.6 L2007.6 401.9 L2021.4 420.6 L2028 418.3 L2014.2 399.6 L2028 418.3 L2034.5 416.1 L2020.7 397.3 L2034.5 416.1 L2041.1 413.8 L2034.2 404.4 L2041.1 413.8Z M2054.2 438.7 L2000.4 452.5 L2001.6 429.2 L2013.9 449 L2020.6 447.3 L2008.4 427.5 L2020.6 447.3 L2027.3 445.6 L2015.1 425.8 L2027.3 445.6 L2034 443.9 L2021.8 424.1 L2034 443.9 L2040.8 442.1 L2034.6 432.3 L2040.8 442.1Z M2054.2 463.7 L2000.5 477.7 L2001.6 454.5 L2013.9 474.2 L2020.6 472.5 L2008.3 452.7 L2020.6 472.5 L2027.4 470.7 L2015 451 L2027.4 470.7 L2034.1 469 L2021.7 449.2 L2034.1 469 L2040.8 467.2 L2028.5 447.5 L2040.8 467.2 L2047.5 465.5 L2041.3 455.6 L2047.5 465.5Z M2054.2 480.2 L2000.6 494.6 L2001.5 471.4 L2014 491 L2017.4 490.1 L2018.3 466.9 L2030.8 486.5Z M2054.2 548.6 L2000.5 562.5 L2001.6 539.3 L2013.9 559 L2017.3 558.2 L2018.4 534.9 L2030.7 554.7 L2037.4 552.9 L2025.1 533.2 L2037.4 552.9 L2044.1 551.2 L2031.8 531.5 L2044.1 551.2 L2050.8 549.5 L2044.7 539.6 L2050.8 549.5Z M2054.2 594.3 L2000.6 608.8 L2001.5 585.5 L2014 605.2 L2017.4 604.3 L2018.3 581 L2030.8 600.6 L2037.5 598.8 L2025 579.2 L2037.5 598.8 L2044.2 597 L2031.7 577.4 L2044.2 597 L2050.9 595.2 L2038.4 575.6 L2050.9 595.2Z M2054.2 674.1 L2001.9 692.8 L2001 669.5 L2015 688.1 L2018.3 686.9 L2017.3 663.7 L2031.3 682.3 L2037.9 679.9 L2023.9 661.4 L2037.9 679.9 L2044.4 677.6 L2030.4 659 L2044.4 677.6 L2050.9 675.3 L2036.9 656.7 L2050.9 675.3Z M2054.2 742.3 L2002.8 763.2 L2000.9 740 L2015.6 758 L2018.9 756.7 L2016.9 733.5 L2031.7 751.4 L2038.1 748.8 L2023.3 730.9 L2038.1 748.8 L2044.6 746.2 L2029.8 728.3 L2044.6 746.2 L2051 743.6 L2043.6 734.6 L2051 743.6Z M2054.2 813.9 L2003.7 836.9 L2000.8 813.8 L2016.3 831.1 L2019.5 829.7 L2016.6 806.6 L2032.1 823.9 L2038.4 821.1 L2022.9 803.7 L2038.4 821.1 L2044.7 818.2 L2029.2 800.9 L2044.7 818.2Z M2054.2 850.7 L2003.9 874.3 L2000.8 851.2 L2016.5 868.4 L2019.7 866.9 L2016.5 843.8 L2032.2 861 L2038.5 858.1 L2022.8 840.9 L2038.5 858.1 L2044.8 855.1 L2036.9 846.5 L2044.8 855.1Z M2054.2 922.3 L2003.6 945 L2000.8 921.9 L2016.2 939.3 L2019.4 937.9 L2016.6 914.8 L2032 932.2 L2038.4 929.4 L2023 912 L2038.4 929.4 L2044.7 926.6 L2037 917.8 L2044.7 926.6Z M2054.2 965.2 L2003.6 987.9 L2000.8 964.8 L2016.2 982.2 L2022.5 979.4 L2007.1 962 L2022.5 979.4 L2028.9 976.5 L2021.2 967.8 L2028.9 976.5Z M2054.2 996.6 L2004.6 1021.5 L2000.8 998.5 L2017 1015.3 L2023.2 1012.2 L2007 995.4 L2023.2 1012.2 L2029.4 1009.1 L2021.3 1000.7 L2029.4 1009.1Z M2054.2 1018.4 L2004.4 1042.8 L2000.8 1019.8 L2016.8 1036.7 L2023 1033.6 L2007.1 1016.8 L2023 1033.6 L2029.3 1030.6 L2021.3 1022.2 L2029.3 1030.6Z M2054.2 1033.4 L2007 1062.7 L2001.2 1040.1 L2018.8 1055.3 L2024.7 1051.7 L2007.1 1036.5 L2024.7 1051.7 L2030.6 1048 L2021.8 1040.4 L2030.6 1048Z M2054.2 1064.3 L2006.1 1092 L2001 1069.3 L2018.1 1085.1 L2024.1 1081.6 L2007.1 1065.8 L2024.1 1081.6 L2030.2 1078.1 L2021.6 1070.3 L2030.2 1078.1Z M2054.2 1110 L2004.2 1134.1 L2000.8 1111.1 L2016.7 1128.1 L2023 1125.1 L2007.1 1108.1 L2023 1125.1Z M2054.2 1157.9 L1999.5 1167.1 L1988.9 1146.4 L1999.5 1167.1 L2006.3 1166 L1995.8 1145.2 L2006.3 1166 L2013.2 1164.8 L2002.6 1144.1 L2013.2 1164.8 L2020 1163.7 L2009.5 1142.9 L2020 1163.7 L2026.8 1162.5 L2021.6 1152.2 L2026.8 1162.5Z M2054.2 1193.7 L2000.2 1180.8 L1998.6 1157.6 L2000.2 1180.8 L2007 1182.4 L2005.4 1159.2 L2007 1182.4 L2013.7 1184 L2012.1 1160.8 L2013.7 1184 L2020.5 1185.6 L2018.9 1162.4 L2020.5 1185.6Z M2054.2 1208 L2003.5 1185.3 L2006.3 1162.2 L2003.5 1185.3 L2009.9 1188.2 L2012.6 1165.1 L2009.9 1188.2 L2016.2 1191 L2018.9 1167.9 L2016.2 1191 L2022.5 1193.8 L2023.9 1182.3 L2022.5 1193.8Z M2054.2 1224.4 L2006.4 1196.2 L2011.7 1173.6 L2006.4 1196.2 L2012.4 1199.7 L2017.7 1177.1 L2012.4 1199.7 L2018.3 1203.3 L2023.6 1180.6 L2018.3 1203.3Z M2054.2 1259.7 L2007 1230.5 L2012.7 1208 L2007 1230.5 L2012.9 1234.2 L2018.6 1211.6 L2012.9 1234.2 L2018.8 1237.8 L2021.7 1226.6 L2018.8 1237.8Z M2054.2 1285.3 L1998.9 1281.1 L1993.6 1258.4 L1998.9 1281.1Z" fill="#000" stroke="#000" stroke-width="2.2" stroke-linejoin="round"/>
<rect x="1284.1" y="40.7" width="770.1" height="1333.9" fill="none" stroke="#000" stroke-width="1.9"/>
<path d="M1275.8 40.8 H1284.1 M1275.8 438.9 H1284.1 M1275.8 671.8 H1284.1 M1275.8 837 H1284.1 M1275.8 965.2 H1284.1 M1275.8 1069.9 H1284.1 M1275.8 1158.4 H1284.1 M1275.8 1235.1 H1284.1 M1275.8 1302.8 H1284.1 M1275.8 1363.3 H1284.1 M1398 1374.6 V1382.9 M1562 1374.6 V1382.9 M1726 1374.6 V1382.9 M1890 1374.6 V1382.9 M2054 1374.6 V1382.9" stroke="#000" stroke-width="1.9"/>
<g transform="translate(1266.5 49.6) scale(1.0700 1)"><text x="0" y="0" text-anchor="end" style="font-family:'Liberation Sans',sans-serif;font-size:22.6px">100</text></g>
<g transform="translate(1266.5 447.7) scale(1.0700 1)"><text x="0" y="0" text-anchor="end" style="font-family:'Liberation Sans',sans-serif;font-size:22.6px">200</text></g>
<g transform="translate(1266.5 680.6) scale(1.0700 1)"><text x="0" y="0" text-anchor="end" style="font-family:'Liberation Sans',sans-serif;font-size:22.6px">300</text></g>
<g transform="translate(1266.5 845.8) scale(1.0700 1)"><text x="0" y="0" text-anchor="end" style="font-family:'Liberation Sans',sans-serif;font-size:22.6px">400</text></g>
<g transform="translate(1266.5 974) scale(1.0700 1)"><text x="0" y="0" text-anchor="end" style="font-family:'Liberation Sans',sans-serif;font-size:22.6px">500</text></g>
<g transform="translate(1266.5 1078.7) scale(1.0700 1)"><text x="0" y="0" text-anchor="end" style="font-family:'Liberation Sans',sans-serif;font-size:22.6px">600</text></g>
<g transform="translate(1266.5 1167.2) scale(1.0700 1)"><text x="0" y="0" text-anchor="end" style="font-family:'Liberation Sans',sans-serif;font-size:22.6px">700</text></g>
<g transform="translate(1266.5 1243.9) scale(1.0700 1)"><text x="0" y="0" text-anchor="end" style="font-family:'Liberation Sans',sans-serif;font-size:22.6px">800</text></g>
<g transform="translate(1266.5 1311.6) scale(1.0700 1)"><text x="0" y="0" text-anchor="end" style="font-family:'Liberation Sans',sans-serif;font-size:22.6px">900</text></g>
<g transform="translate(1266.5 1372.1) scale(1.0700 1)"><text x="0" y="0" text-anchor="end" style="font-family:'Liberation Sans',sans-serif;font-size:22.6px">1000</text></g>
<rect x="1377" y="1399.5" width="14.2" height="1.8"/><g transform="translate(1393.5 1407.6) scale(1.0700 1)"><text x="0" y="0" text-anchor="start" style="font-family:'Liberation Sans',sans-serif;font-size:23.4px">20</text></g>
<rect x="1541" y="1399.5" width="14.2" height="1.8"/><g transform="translate(1557.5 1407.6) scale(1.0700 1)"><text x="0" y="0" text-anchor="start" style="font-family:'Liberation Sans',sans-serif;font-size:23.4px">10</text></g>
<g transform="translate(1719.8 1407.6) scale(1.0700 1)"><text x="0" y="0" text-anchor="start" style="font-family:'Liberation Sans',sans-serif;font-size:23.4px">0</text></g>
<g transform="translate(1876.8 1407.6) scale(1.0700 1)"><text x="0" y="0" text-anchor="start" style="font-family:'Liberation Sans',sans-serif;font-size:23.4px">10</text></g>
<g transform="translate(2040.8 1407.6) scale(1.0700 1)"><text x="0" y="0" text-anchor="start" style="font-family:'Liberation Sans',sans-serif;font-size:23.4px">20</text></g>
<g transform="translate(125.6 27.6) scale(0.9440 1)"><text x="0" y="0" text-anchor="start" style="font-family:'Liberation Sans',sans-serif;font-size:34.2px">EPZ</text></g>
<g transform="translate(1284.7 27.6) scale(0.9440 1)"><text x="0" y="0" text-anchor="start" style="font-family:'Liberation Sans',sans-serif;font-size:34.2px">EPZ</text></g>
<g transform="translate(1059.5 27.6) scale(1.1110 1)"><text x="0" y="0" text-anchor="end" style="font-family:'Liberation Sans',sans-serif;font-size:34.2px">Valid Time: 2017-01-25 00:00:00</text></g>
<g transform="translate(2053.7 27.6) scale(1.1110 1)"><text x="0" y="0" text-anchor="end" style="font-family:'Liberation Sans',sans-serif;font-size:34.2px">Valid Time: 2017-01-25 12:00:00</text></g>
<g transform="translate(140.5 97.4) scale(1.0000 1)"><text x="0" y="0" text-anchor="start" style="font-family:'Liberation Sans',sans-serif;font-size:49.5px">(a)</text></g>
<g transform="translate(1301 97.4) scale(1.0000 1)"><text x="0" y="0" text-anchor="start" style="font-family:'Liberation Sans',sans-serif;font-size:49.5px">(b)</text></g>
<g transform="translate(593.7 1457.2) scale(1.0675 1)"><text x="0" y="0" text-anchor="middle" style="font-family:'Liberation Sans',sans-serif;font-size:47.5px">Temperature <tspan dy="-2" dx="3">(</tspan><tspan font-style="italic" font-size="31px" dy="-16.5" dx="2">o</tspan><tspan font-style="italic" dy="18.5" dx="-1">C</tspan><tspan dy="-2">)</tspan></text></g>
<g transform="translate(1670.6 1457.2) scale(1.0675 1)"><text x="0" y="0" text-anchor="middle" style="font-family:'Liberation Sans',sans-serif;font-size:47.5px">Temperature <tspan dy="-2" dx="3">(</tspan><tspan font-style="italic" font-size="31px" dy="-16.5" dx="2">o</tspan><tspan font-style="italic" dy="18.5" dx="-1">C</tspan><tspan dy="-2">)</tspan></text></g>
<g transform="translate(34.4 709.3) rotate(-90) scale(1.0080 1)"><text x="0" y="0" text-anchor="middle" style="font-family:'Liberation Sans',sans-serif;font-size:47.5px">Pressure <tspan dy="-2">(</tspan><tspan dy="2">hPa</tspan><tspan dy="-2">)</tspan></text></g>
<g transform="translate(1193.8 708.4) rotate(-90) scale(1.0080 1)"><text x="0" y="0" text-anchor="middle" style="font-family:'Liberation Sans',sans-serif;font-size:47.5px">Pressure <tspan dy="-2">(</tspan><tspan dy="2">hPa</tspan><tspan dy="-2">)</tspan></text></g>
</svg></body></html>
